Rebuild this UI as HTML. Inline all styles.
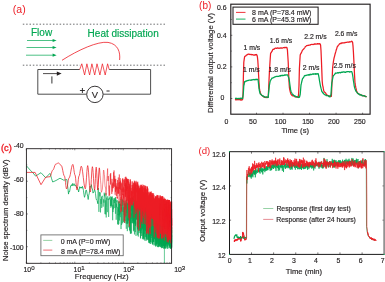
<!DOCTYPE html>
<html><head><meta charset="utf-8"><style>
html,body{margin:0;padding:0;background:#fff;}
svg{display:block;will-change:transform;}
text{font-family:"Liberation Sans",sans-serif;}
</style></head><body>
<svg width="385" height="282" viewBox="0 0 385 282">
<rect width="385" height="282" fill="#fff"/>
<text x="12.8" y="13.2" font-size="10.5" fill="#ed1c24" stroke="#ed1c24" stroke-width="0.16" text-anchor="start" stroke-opacity="0">(a)</text>
<line x1="22.8" y1="24.2" x2="165" y2="24.2" stroke="#6d6e70" stroke-width="1" stroke-dasharray="1.5 1.85"/>
<line x1="22.8" y1="65.2" x2="165" y2="65.2" stroke="#6d6e70" stroke-width="1" stroke-dasharray="1.5 1.85"/>
<text x="31" y="36.3" font-size="10" fill="#00a651" stroke="#00a651" stroke-width="0.16" text-anchor="start" >Flow</text>
<text x="87.6" y="37.3" font-size="10" fill="#00a651" stroke="#00a651" stroke-width="0.16" text-anchor="start" >Heat dissipation</text>
<line x1="27" y1="40.5" x2="53" y2="40.5" stroke="#00a651" stroke-width="0.7"/>
<path d="M52.6,38.9 L56.6,40.5 L52.6,42.1 Z" fill="#00a651"/>
<line x1="26.5" y1="47.5" x2="53" y2="47.5" stroke="#00a651" stroke-width="0.7"/>
<path d="M52.6,45.9 L56.6,47.5 L52.6,49.1 Z" fill="#00a651"/>
<line x1="26" y1="55.2" x2="53" y2="55.2" stroke="#00a651" stroke-width="0.7"/>
<path d="M52.6,53.6 L56.6,55.2 L52.6,56.800000000000004 Z" fill="#00a651"/>
<path d="M62,60.3 C78,50 98,41 108,42.4 C118,44 120.5,52 119.6,60" fill="none" stroke="#ed1c24" stroke-width="0.8"/>
<path d="M79.7,69.5 L37.8,69.5 L37.8,94.2 L86.6,94.2 M103.2,94.2 L150.6,94.2 L150.6,69.5 L109.2,69.5" fill="none" stroke="#3a3a3a" stroke-width="0.9"/>
<rect x="80.2" y="62.5" width="28.6" height="4" fill="#fff"/>
<polyline points="79.70,69.50 81.80,63.80 84.60,75.00 86.90,63.80 89.60,75.00 91.90,63.80 94.70,75.00 97.00,63.80 99.90,75.00 102.40,63.80 105.20,75.00 107.60,63.80 109.20,69.50" fill="none" stroke="#ed1c24" stroke-width="0.75" stroke-linejoin="round" />
<line x1="43" y1="73.6" x2="58" y2="73.6" stroke="#231f20" stroke-width="0.8"/>
<path d="M56.8,71.5 L61.6,73.6 L56.8,75.7 Z" fill="#231f20"/>
<line x1="51.9" y1="76.4" x2="51.9" y2="83.5" stroke="#333" stroke-width="1"/>
<circle cx="94.9" cy="94.4" r="8.2" fill="#fff" stroke="#231f20" stroke-width="0.9"/>
<text x="94.9" y="97.5" font-size="9.4" fill="#231f20" stroke="#231f20" stroke-width="0.16" text-anchor="middle" >V</text>
<path d="M79.9,90.5 H84.9 M82.4,88 V93" stroke="#231f20" stroke-width="0.9"/>
<line x1="106.5" y1="91" x2="109.6" y2="91" stroke="#231f20" stroke-width="0.95"/>
<text x="199.1" y="8.9" font-size="10" fill="#ed1c24" stroke="#ed1c24" stroke-width="0.16" text-anchor="start" stroke-opacity="0">(b)</text>
<line x1="256.50" y1="114.2" x2="256.50" y2="112.7" stroke="#231f20" stroke-width="0.6"/>
<line x1="283.02" y1="114.2" x2="283.02" y2="112.7" stroke="#231f20" stroke-width="0.6"/>
<line x1="309.54" y1="114.2" x2="309.54" y2="112.7" stroke="#231f20" stroke-width="0.6"/>
<line x1="336.07" y1="114.2" x2="336.07" y2="112.7" stroke="#231f20" stroke-width="0.6"/>
<line x1="362.60" y1="114.2" x2="362.60" y2="112.7" stroke="#231f20" stroke-width="0.6"/>
<line x1="230.8" y1="98.50" x2="232.3" y2="98.50" stroke="#231f20" stroke-width="0.6"/>
<line x1="230.8" y1="82.70" x2="231.70000000000002" y2="82.70" stroke="#231f20" stroke-width="0.6"/>
<line x1="230.8" y1="66.90" x2="232.3" y2="66.90" stroke="#231f20" stroke-width="0.6"/>
<line x1="230.8" y1="51.10" x2="231.70000000000002" y2="51.10" stroke="#231f20" stroke-width="0.6"/>
<line x1="230.8" y1="35.30" x2="232.3" y2="35.30" stroke="#231f20" stroke-width="0.6"/>
<line x1="230.8" y1="19.50" x2="231.70000000000002" y2="19.50" stroke="#231f20" stroke-width="0.6"/>
<text x="226.5" y="123.7" font-size="6.9" fill="#231f20" stroke="#231f20" stroke-width="0.16" text-anchor="middle" >0</text>
<text x="252.9" y="123.7" font-size="6.9" fill="#231f20" stroke="#231f20" stroke-width="0.16" text-anchor="middle" >50</text>
<text x="280.6" y="123.7" font-size="6.9" fill="#231f20" stroke="#231f20" stroke-width="0.16" text-anchor="middle" >100</text>
<text x="307.9" y="123.7" font-size="6.9" fill="#231f20" stroke="#231f20" stroke-width="0.16" text-anchor="middle" >150</text>
<text x="333.8" y="123.7" font-size="6.9" fill="#231f20" stroke="#231f20" stroke-width="0.16" text-anchor="middle" >200</text>
<text x="359.8" y="123.7" font-size="6.9" fill="#231f20" stroke="#231f20" stroke-width="0.16" text-anchor="middle" >250</text>
<text x="226.5" y="10.0" font-size="6.9" fill="#231f20" stroke="#231f20" stroke-width="0.16" text-anchor="end" >0.6</text>
<text x="226.5" y="37.6" font-size="6.9" fill="#231f20" stroke="#231f20" stroke-width="0.16" text-anchor="end" >0.4</text>
<text x="226.5" y="68.8" font-size="6.9" fill="#231f20" stroke="#231f20" stroke-width="0.16" text-anchor="end" >0.2</text>
<text x="224.4" y="100.4" font-size="6.9" fill="#231f20" stroke="#231f20" stroke-width="0.16" text-anchor="end" >0</text>
<text x="295.2" y="132.6" font-size="7.6" fill="#231f20" stroke="#231f20" stroke-width="0.16" text-anchor="middle" >Time (s)</text>
<text x="0" y="0" font-size="7.75" fill="#231f20" stroke="#231f20" stroke-width="0.16" text-anchor="middle" transform="translate(213.4,62.95) rotate(-90)">Differential output voltage (V)</text>
<polyline points="235.00,99.69 235.40,99.59 235.80,99.89 236.20,99.54 236.60,99.82 237.00,99.72 237.40,99.53 237.80,99.80 238.20,99.52 238.60,99.76 239.00,99.54 239.40,99.55 239.80,99.75 240.20,100.00 240.60,99.57 241.00,99.63 241.40,99.88 241.80,100.07 242.20,99.85 242.60,99.34 243.00,94.54 243.40,76.13 243.80,62.22 244.20,59.37 244.60,56.79 245.00,56.37 245.40,56.09 245.80,55.99 246.20,55.21 246.60,55.14 247.00,54.95 247.40,54.56 247.80,54.44 248.20,54.05 248.60,54.08 249.00,54.20 249.40,54.51 249.80,54.39 250.20,54.35 250.60,54.55 251.00,54.50 251.40,54.43 251.80,54.76 252.20,54.76 252.60,54.57 253.00,54.84 253.40,54.90 253.80,55.19 254.20,55.11 254.60,54.78 255.00,55.13 255.40,54.55 255.80,54.66 256.20,54.80 256.60,54.52 257.00,55.24 257.40,56.85 257.80,60.48 258.20,66.49 258.60,75.04 259.00,82.65 259.40,88.35 259.80,90.41 260.20,92.18 260.60,93.67 261.00,94.10 261.40,94.83 261.80,95.39 262.20,95.61 262.60,96.15 263.00,96.00 263.40,96.59 263.80,96.76 264.20,97.18 264.60,97.29 265.00,97.17 265.40,97.31 265.80,97.56 266.20,97.24 266.60,97.58 267.00,97.49 267.40,97.53 267.80,97.31 268.20,97.28 268.60,89.58 269.00,80.60 269.40,72.18 269.80,65.30 270.20,58.99 270.60,53.37 271.00,52.75 271.40,52.27 271.80,51.56 272.20,50.91 272.60,49.88 273.00,49.40 273.40,49.18 273.80,49.30 274.20,49.15 274.60,48.48 275.00,48.30 275.40,48.22 275.80,48.19 276.20,48.31 276.60,48.34 277.00,48.11 277.40,47.92 277.80,48.13 278.20,48.07 278.60,48.16 279.00,48.36 279.40,48.16 279.80,48.03 280.20,48.06 280.60,48.07 281.00,47.67 281.40,48.16 281.80,48.06 282.20,48.10 282.60,48.03 283.00,47.76 283.40,47.74 283.80,47.54 284.20,47.84 284.60,47.47 285.00,47.45 285.40,47.51 285.80,47.46 286.20,47.54 286.60,47.35 287.00,47.78 287.40,49.79 287.80,55.76 288.20,61.92 288.60,72.00 289.00,81.72 289.40,87.57 289.80,89.92 290.20,91.50 290.60,93.07 291.00,94.30 291.40,94.48 291.80,95.24 292.20,95.65 292.60,95.66 293.00,95.99 293.40,95.87 293.80,96.01 294.20,96.27 294.60,96.35 295.00,96.81 295.40,96.54 295.80,96.55 296.20,97.18 296.60,97.00 297.00,96.85 297.40,97.16 297.80,96.92 298.20,97.30 298.60,93.94 299.00,85.22 299.40,68.45 299.80,61.52 300.20,54.92 300.60,53.97 301.00,53.49 301.40,52.52 301.80,51.83 302.20,50.72 302.60,49.91 303.00,49.77 303.40,49.39 303.80,48.82 304.20,48.30 304.60,47.82 305.00,47.28 305.40,46.48 305.80,46.33 306.20,46.06 306.60,45.70 307.00,45.53 307.40,45.51 307.80,45.33 308.20,45.43 308.60,45.42 309.00,45.02 309.40,45.24 309.80,45.20 310.20,45.11 310.60,44.69 311.00,44.53 311.40,44.46 311.80,44.38 312.20,44.31 312.60,44.49 313.00,44.59 313.40,44.48 313.80,44.20 314.20,44.23 314.60,44.25 315.00,43.75 315.40,44.07 315.80,44.20 316.20,44.10 316.60,44.06 317.00,43.87 317.40,43.67 317.80,44.01 318.20,43.72 318.60,43.98 319.00,44.06 319.40,43.69 319.80,43.67 320.20,43.97 320.60,45.21 321.00,50.47 321.40,59.78 321.80,70.19 322.20,81.04 322.60,85.05 323.00,86.60 323.40,88.96 323.80,91.00 324.20,91.66 324.60,91.97 325.00,92.58 325.40,92.82 325.80,93.24 326.20,94.30 326.60,94.60 327.00,95.02 327.40,95.47 327.80,95.37 328.20,95.84 328.60,96.02 329.00,95.86 329.40,96.09 329.80,96.32 330.20,96.42 330.60,96.54 331.00,96.25 331.40,96.25 331.80,87.04 332.20,77.96 332.60,67.91 333.00,64.77 333.40,61.65 333.80,59.41 334.20,57.46 334.60,56.10 335.00,54.28 335.40,52.99 335.80,51.69 336.20,50.09 336.60,49.04 337.00,47.58 337.40,46.37 337.80,46.31 338.20,45.39 338.60,45.03 339.00,44.64 339.40,44.00 339.80,43.54 340.20,43.56 340.60,43.48 341.00,43.51 341.40,43.00 341.80,43.17 342.20,42.88 342.60,42.79 343.00,43.02 343.40,42.79 343.80,42.76 344.20,42.82 344.60,42.84 345.00,42.50 345.40,42.54 345.80,42.41 346.20,42.35 346.60,42.39 347.00,42.19 347.40,42.17 347.80,42.07 348.20,42.29 348.60,42.08 349.00,42.12 349.40,42.10 349.80,41.62 350.20,41.74 350.60,41.91 351.00,41.78 351.40,41.29 351.80,41.22 352.20,41.59 352.60,42.29 353.00,45.84 353.40,51.74 353.80,59.39 354.20,68.03 354.60,75.98 355.00,83.19 355.40,85.48 355.80,87.40 356.20,89.04 356.60,91.43 357.00,92.06 357.40,92.18 357.80,93.20 358.20,93.44 358.60,93.74 359.00,94.28 359.40,94.43 359.80,94.27 360.20,94.67 360.60,94.97 361.00,95.10 361.40,95.12 361.80,95.30 362.20,95.65 362.60,95.34 363.00,95.77 363.40,95.80 363.80,95.66 364.20,95.94 364.60,96.21 365.00,96.23 365.40,96.05 365.80,96.69 366.20,96.66 366.60,96.86" fill="none" stroke="#ed1c24" stroke-width="1.25" stroke-linejoin="round" />
<polyline points="235.00,98.32 235.40,98.43 235.80,98.26 236.20,98.76 236.60,98.40 237.00,98.29 237.40,98.48 237.80,98.81 238.20,98.74 238.60,98.34 239.00,98.25 239.40,98.78 239.80,98.52 240.20,98.60 240.60,98.17 241.00,98.13 241.40,98.56 241.80,98.37 242.20,98.11 242.60,98.71 243.00,96.23 243.40,92.21 243.80,85.71 244.20,84.25 244.60,81.70 245.00,81.97 245.40,81.40 245.80,81.03 246.20,81.00 246.60,81.19 247.00,80.66 247.40,80.50 247.80,80.70 248.20,80.43 248.60,80.27 249.00,80.24 249.40,80.09 249.80,80.13 250.20,80.14 250.60,80.09 251.00,80.36 251.40,79.98 251.80,80.08 252.20,79.80 252.60,79.87 253.00,79.59 253.40,79.70 253.80,79.49 254.20,79.93 254.60,79.74 255.00,79.42 255.40,79.56 255.80,79.82 256.20,79.18 256.60,79.61 257.00,79.28 257.40,79.26 257.80,79.43 258.20,80.89 258.60,84.60 259.00,88.46 259.40,90.79 259.80,92.46 260.20,93.70 260.60,94.11 261.00,94.56 261.40,94.89 261.80,95.35 262.20,95.49 262.60,95.74 263.00,95.90 263.40,96.57 263.80,96.43 264.20,96.56 264.60,96.57 265.00,97.16 265.40,97.25 265.80,97.17 266.20,96.96 266.60,96.99 267.00,97.09 267.40,97.27 267.80,97.10 268.20,97.35 268.60,93.18 269.00,89.32 269.40,85.33 269.80,83.23 270.20,81.22 270.60,80.55 271.00,79.54 271.40,79.02 271.80,78.23 272.20,78.14 272.60,78.04 273.00,77.90 273.40,77.52 273.80,77.57 274.20,77.06 274.60,77.08 275.00,76.79 275.40,76.88 275.80,76.53 276.20,76.42 276.60,76.51 277.00,76.36 277.40,76.51 277.80,76.37 278.20,76.43 278.60,76.26 279.00,76.20 279.40,76.22 279.80,75.77 280.20,75.65 280.60,76.04 281.00,75.40 281.40,75.74 281.80,75.62 282.20,75.13 282.60,75.62 283.00,75.60 283.40,75.35 283.80,75.36 284.20,75.36 284.60,74.82 285.00,75.03 285.40,74.95 285.80,75.12 286.20,75.03 286.60,74.99 287.00,74.75 287.40,74.91 287.80,75.33 288.20,76.54 288.60,77.52 289.00,78.81 289.40,80.73 289.80,84.04 290.20,86.81 290.60,89.67 291.00,91.43 291.40,92.26 291.80,93.03 292.20,93.85 292.60,94.37 293.00,94.32 293.40,95.18 293.80,95.44 294.20,95.56 294.60,95.88 295.00,96.27 295.40,96.15 295.80,96.81 296.20,96.55 296.60,96.51 297.00,96.72 297.40,97.13 297.80,96.84 298.20,97.30 298.60,97.55 299.00,97.29 299.40,97.30 299.80,96.06 300.20,94.43 300.60,89.79 301.00,84.98 301.40,83.45 301.80,81.50 302.20,80.00 302.60,78.53 303.00,78.33 303.40,77.48 303.80,77.13 304.20,76.20 304.60,75.70 305.00,75.42 305.40,75.62 305.80,75.55 306.20,75.45 306.60,75.10 307.00,75.18 307.40,75.06 307.80,74.98 308.20,74.65 308.60,75.11 309.00,74.54 309.40,75.01 309.80,74.89 310.20,74.17 310.60,74.40 311.00,74.57 311.40,74.61 311.80,74.21 312.20,74.05 312.60,73.98 313.00,74.46 313.40,73.91 313.80,74.13 314.20,73.79 314.60,74.03 315.00,74.29 315.40,73.68 315.80,74.13 316.20,73.88 316.60,74.11 317.00,73.95 317.40,73.58 317.80,74.01 318.20,73.69 318.60,75.31 319.00,77.34 319.40,80.03 319.80,82.35 320.20,84.60 320.60,86.61 321.00,88.19 321.40,89.61 321.80,91.42 322.20,91.74 322.60,92.66 323.00,93.11 323.40,92.99 323.80,93.94 324.20,94.18 324.60,94.70 325.00,94.66 325.40,94.98 325.80,95.13 326.20,95.70 326.60,95.55 327.00,95.53 327.40,95.71 327.80,95.75 328.20,95.73 328.60,95.90 329.00,96.56 329.40,96.31 329.80,96.90 330.20,96.13 330.60,95.85 331.00,94.26 331.40,87.83 331.80,82.79 332.20,81.12 332.60,78.99 333.00,76.86 333.40,75.49 333.80,75.29 334.20,74.91 334.60,74.23 335.00,73.95 335.40,73.08 335.80,73.33 336.20,73.08 336.60,73.24 337.00,73.10 337.40,72.80 337.80,72.57 338.20,73.13 338.60,72.52 339.00,72.70 339.40,72.55 339.80,72.47 340.20,72.72 340.60,72.83 341.00,72.27 341.40,72.49 341.80,72.19 342.20,72.31 342.60,72.14 343.00,71.92 343.40,71.86 343.80,71.88 344.20,72.35 344.60,72.04 345.00,71.83 345.40,72.29 345.80,72.33 346.20,71.93 346.60,71.70 347.00,71.72 347.40,71.63 347.80,71.78 348.20,71.59 348.60,71.67 349.00,71.67 349.40,71.87 349.80,72.07 350.20,71.95 350.60,71.70 351.00,71.68 351.40,71.74 351.80,71.62 352.20,73.05 352.60,74.81 353.00,77.49 353.40,80.70 353.80,82.83 354.20,85.82 354.60,87.53 355.00,88.95 355.40,89.75 355.80,91.04 356.20,91.42 356.60,91.93 357.00,92.36 357.40,93.12 357.80,93.44 358.20,93.86 358.60,93.67 359.00,94.00 359.40,94.61 359.80,94.86 360.20,94.70 360.60,94.90 361.00,94.62 361.40,95.02 361.80,95.52 362.20,95.58 362.60,95.73 363.00,95.94 363.40,95.56 363.80,95.58 364.20,95.71 364.60,96.07 365.00,96.29 365.40,96.57 365.80,96.52 366.20,96.57 366.60,96.76" fill="none" stroke="#00a651" stroke-width="1.25" stroke-linejoin="round" />
<rect x="233" y="7.1" width="85.1" height="17.2" fill="#fff" stroke="#231f20" stroke-width="1.05"/>
<line x1="236" y1="12.4" x2="245.5" y2="12.4" stroke="#ed1c24" stroke-width="0.9"/>
<line x1="236" y1="19.1" x2="245.5" y2="19.1" stroke="#00a651" stroke-width="0.9"/>
<text x="252.1" y="15.1" font-size="7.0" fill="#231f20" stroke="#231f20" stroke-width="0.16" text-anchor="start" >8 mA (P=78.4 mW)</text>
<text x="252.1" y="21.9" font-size="7.0" fill="#231f20" stroke="#231f20" stroke-width="0.16" text-anchor="start" >6 mA (P=45.3 mW)</text>
<text x="243.5" y="49.9" font-size="6.85" fill="#231f20" stroke="#231f20" stroke-width="0.16" text-anchor="start" >1 m/s</text>
<text x="269.8" y="42.8" font-size="6.85" fill="#231f20" stroke="#231f20" stroke-width="0.16" text-anchor="start" >1.6 m/s</text>
<text x="304.2" y="38.6" font-size="6.85" fill="#231f20" stroke="#231f20" stroke-width="0.16" text-anchor="start" >2.2 m/s</text>
<text x="334.9" y="35.6" font-size="6.85" fill="#231f20" stroke="#231f20" stroke-width="0.16" text-anchor="start" >2.6 m/s</text>
<text x="243.0" y="72.3" font-size="6.85" fill="#231f20" stroke="#231f20" stroke-width="0.16" text-anchor="start" >1 m/s</text>
<text x="268.5" y="72.0" font-size="6.85" fill="#231f20" stroke="#231f20" stroke-width="0.16" text-anchor="start" >1.8 m/s</text>
<text x="302.8" y="69.7" font-size="6.85" fill="#231f20" stroke="#231f20" stroke-width="0.16" text-anchor="start" >2 m/s</text>
<text x="333.4" y="67.8" font-size="6.85" fill="#231f20" stroke="#231f20" stroke-width="0.16" text-anchor="start" >2.5 m/s</text>
<rect x="230.8" y="4.2" width="139.3" height="110.0" fill="none" stroke="#231f20" stroke-width="1.15"/>
<text x="0.9" y="151.4" font-size="9.3" fill="#ed1c24" stroke="#ed1c24" stroke-width="0.35" text-anchor="start" >(c)</text>
<line x1="26.30" y1="263.3" x2="26.30" y2="261.7" stroke="#231f20" stroke-width="0.5"/>
<line x1="26.30" y1="148.7" x2="26.30" y2="150.29999999999998" stroke="#231f20" stroke-width="0.5"/>
<line x1="40.89" y1="263.3" x2="40.89" y2="262.40000000000003" stroke="#231f20" stroke-width="0.5"/>
<line x1="40.89" y1="148.7" x2="40.89" y2="149.6" stroke="#231f20" stroke-width="0.5"/>
<line x1="49.43" y1="263.3" x2="49.43" y2="262.40000000000003" stroke="#231f20" stroke-width="0.5"/>
<line x1="49.43" y1="148.7" x2="49.43" y2="149.6" stroke="#231f20" stroke-width="0.5"/>
<line x1="55.48" y1="263.3" x2="55.48" y2="262.40000000000003" stroke="#231f20" stroke-width="0.5"/>
<line x1="55.48" y1="148.7" x2="55.48" y2="149.6" stroke="#231f20" stroke-width="0.5"/>
<line x1="60.18" y1="263.3" x2="60.18" y2="262.40000000000003" stroke="#231f20" stroke-width="0.5"/>
<line x1="60.18" y1="148.7" x2="60.18" y2="149.6" stroke="#231f20" stroke-width="0.5"/>
<line x1="64.02" y1="263.3" x2="64.02" y2="262.40000000000003" stroke="#231f20" stroke-width="0.5"/>
<line x1="64.02" y1="148.7" x2="64.02" y2="149.6" stroke="#231f20" stroke-width="0.5"/>
<line x1="67.26" y1="263.3" x2="67.26" y2="262.40000000000003" stroke="#231f20" stroke-width="0.5"/>
<line x1="67.26" y1="148.7" x2="67.26" y2="149.6" stroke="#231f20" stroke-width="0.5"/>
<line x1="70.07" y1="263.3" x2="70.07" y2="262.40000000000003" stroke="#231f20" stroke-width="0.5"/>
<line x1="70.07" y1="148.7" x2="70.07" y2="149.6" stroke="#231f20" stroke-width="0.5"/>
<line x1="72.55" y1="263.3" x2="72.55" y2="262.40000000000003" stroke="#231f20" stroke-width="0.5"/>
<line x1="72.55" y1="148.7" x2="72.55" y2="149.6" stroke="#231f20" stroke-width="0.5"/>
<line x1="74.77" y1="263.3" x2="74.77" y2="261.7" stroke="#231f20" stroke-width="0.5"/>
<line x1="74.77" y1="148.7" x2="74.77" y2="150.29999999999998" stroke="#231f20" stroke-width="0.5"/>
<line x1="89.36" y1="263.3" x2="89.36" y2="262.40000000000003" stroke="#231f20" stroke-width="0.5"/>
<line x1="89.36" y1="148.7" x2="89.36" y2="149.6" stroke="#231f20" stroke-width="0.5"/>
<line x1="97.90" y1="263.3" x2="97.90" y2="262.40000000000003" stroke="#231f20" stroke-width="0.5"/>
<line x1="97.90" y1="148.7" x2="97.90" y2="149.6" stroke="#231f20" stroke-width="0.5"/>
<line x1="103.95" y1="263.3" x2="103.95" y2="262.40000000000003" stroke="#231f20" stroke-width="0.5"/>
<line x1="103.95" y1="148.7" x2="103.95" y2="149.6" stroke="#231f20" stroke-width="0.5"/>
<line x1="108.65" y1="263.3" x2="108.65" y2="262.40000000000003" stroke="#231f20" stroke-width="0.5"/>
<line x1="108.65" y1="148.7" x2="108.65" y2="149.6" stroke="#231f20" stroke-width="0.5"/>
<line x1="112.49" y1="263.3" x2="112.49" y2="262.40000000000003" stroke="#231f20" stroke-width="0.5"/>
<line x1="112.49" y1="148.7" x2="112.49" y2="149.6" stroke="#231f20" stroke-width="0.5"/>
<line x1="115.73" y1="263.3" x2="115.73" y2="262.40000000000003" stroke="#231f20" stroke-width="0.5"/>
<line x1="115.73" y1="148.7" x2="115.73" y2="149.6" stroke="#231f20" stroke-width="0.5"/>
<line x1="118.54" y1="263.3" x2="118.54" y2="262.40000000000003" stroke="#231f20" stroke-width="0.5"/>
<line x1="118.54" y1="148.7" x2="118.54" y2="149.6" stroke="#231f20" stroke-width="0.5"/>
<line x1="121.02" y1="263.3" x2="121.02" y2="262.40000000000003" stroke="#231f20" stroke-width="0.5"/>
<line x1="121.02" y1="148.7" x2="121.02" y2="149.6" stroke="#231f20" stroke-width="0.5"/>
<line x1="123.24" y1="263.3" x2="123.24" y2="261.7" stroke="#231f20" stroke-width="0.5"/>
<line x1="123.24" y1="148.7" x2="123.24" y2="150.29999999999998" stroke="#231f20" stroke-width="0.5"/>
<line x1="137.83" y1="263.3" x2="137.83" y2="262.40000000000003" stroke="#231f20" stroke-width="0.5"/>
<line x1="137.83" y1="148.7" x2="137.83" y2="149.6" stroke="#231f20" stroke-width="0.5"/>
<line x1="146.37" y1="263.3" x2="146.37" y2="262.40000000000003" stroke="#231f20" stroke-width="0.5"/>
<line x1="146.37" y1="148.7" x2="146.37" y2="149.6" stroke="#231f20" stroke-width="0.5"/>
<line x1="152.42" y1="263.3" x2="152.42" y2="262.40000000000003" stroke="#231f20" stroke-width="0.5"/>
<line x1="152.42" y1="148.7" x2="152.42" y2="149.6" stroke="#231f20" stroke-width="0.5"/>
<line x1="157.12" y1="263.3" x2="157.12" y2="262.40000000000003" stroke="#231f20" stroke-width="0.5"/>
<line x1="157.12" y1="148.7" x2="157.12" y2="149.6" stroke="#231f20" stroke-width="0.5"/>
<line x1="160.96" y1="263.3" x2="160.96" y2="262.40000000000003" stroke="#231f20" stroke-width="0.5"/>
<line x1="160.96" y1="148.7" x2="160.96" y2="149.6" stroke="#231f20" stroke-width="0.5"/>
<line x1="164.20" y1="263.3" x2="164.20" y2="262.40000000000003" stroke="#231f20" stroke-width="0.5"/>
<line x1="164.20" y1="148.7" x2="164.20" y2="149.6" stroke="#231f20" stroke-width="0.5"/>
<line x1="167.01" y1="263.3" x2="167.01" y2="262.40000000000003" stroke="#231f20" stroke-width="0.5"/>
<line x1="167.01" y1="148.7" x2="167.01" y2="149.6" stroke="#231f20" stroke-width="0.5"/>
<line x1="169.49" y1="263.3" x2="169.49" y2="262.40000000000003" stroke="#231f20" stroke-width="0.5"/>
<line x1="169.49" y1="148.7" x2="169.49" y2="149.6" stroke="#231f20" stroke-width="0.5"/>
<line x1="26.4" y1="164.87" x2="27.299999999999997" y2="164.87" stroke="#231f20" stroke-width="0.5"/>
<line x1="171.6" y1="164.87" x2="170.7" y2="164.87" stroke="#231f20" stroke-width="0.5"/>
<line x1="26.4" y1="181.24" x2="27.9" y2="181.24" stroke="#231f20" stroke-width="0.5"/>
<line x1="171.6" y1="181.24" x2="170.1" y2="181.24" stroke="#231f20" stroke-width="0.5"/>
<line x1="26.4" y1="197.61" x2="27.299999999999997" y2="197.61" stroke="#231f20" stroke-width="0.5"/>
<line x1="171.6" y1="197.61" x2="170.7" y2="197.61" stroke="#231f20" stroke-width="0.5"/>
<line x1="26.4" y1="213.98" x2="27.9" y2="213.98" stroke="#231f20" stroke-width="0.5"/>
<line x1="171.6" y1="213.98" x2="170.1" y2="213.98" stroke="#231f20" stroke-width="0.5"/>
<line x1="26.4" y1="230.35" x2="27.299999999999997" y2="230.35" stroke="#231f20" stroke-width="0.5"/>
<line x1="171.6" y1="230.35" x2="170.7" y2="230.35" stroke="#231f20" stroke-width="0.5"/>
<line x1="26.4" y1="246.72" x2="27.9" y2="246.72" stroke="#231f20" stroke-width="0.5"/>
<line x1="171.6" y1="246.72" x2="170.1" y2="246.72" stroke="#231f20" stroke-width="0.5"/>
<line x1="26.4" y1="263.09" x2="27.299999999999997" y2="263.09" stroke="#231f20" stroke-width="0.5"/>
<line x1="171.6" y1="263.09" x2="170.7" y2="263.09" stroke="#231f20" stroke-width="0.5"/>
<text x="23.7" y="148.2" font-size="6.9" fill="#231f20" stroke="#231f20" stroke-width="0.16" text-anchor="end" >-40</text>
<text x="23.7" y="182.3" font-size="6.9" fill="#231f20" stroke="#231f20" stroke-width="0.16" text-anchor="end" >-60</text>
<text x="23.7" y="216.2" font-size="6.9" fill="#231f20" stroke="#231f20" stroke-width="0.16" text-anchor="end" >-80</text>
<text x="23.7" y="250.0" font-size="6.9" fill="#231f20" stroke="#231f20" stroke-width="0.16" text-anchor="end" >-100</text>
<text x="23.5" y="272" font-size="6.9" fill="#231f20" stroke="#231f20" stroke-width="0.16">10<tspan font-size="6.1" dy="-1.9">0</tspan></text>
<text x="73.6" y="272" font-size="6.9" fill="#231f20" stroke="#231f20" stroke-width="0.16">10<tspan font-size="6.1" dy="-1.9">1</tspan></text>
<text x="123.3" y="272" font-size="6.9" fill="#231f20" stroke="#231f20" stroke-width="0.16">10<tspan font-size="6.1" dy="-1.9">2</tspan></text>
<text x="174.2" y="272" font-size="6.9" fill="#231f20" stroke="#231f20" stroke-width="0.16">10<tspan font-size="6.1" dy="-1.9">3</tspan></text>
<text x="101.7" y="278.7" font-size="7.8" fill="#231f20" stroke="#231f20" stroke-width="0.16" text-anchor="middle" >Frequency (Hz)</text>
<text x="0" y="0" font-size="7.7" fill="#231f20" stroke="#231f20" stroke-width="0.16" text-anchor="middle" transform="translate(8.4,210.25) rotate(-90)">Noise spectrum density (dBV)</text>
<polyline points="26.60,166.00 30.30,170.20 33.00,172.90 35.60,176.10 41.00,172.70 45.70,177.80 50.00,173.30 51.60,178.70 52.70,182.00 56.00,180.50 60.00,178.20 63.80,180.20 66.90,179.50 67.43,184.25 67.97,188.83 68.50,194.10 69.03,191.18 69.57,191.74 70.10,188.80 70.63,185.82 71.17,186.01 71.70,184.60 72.18,185.99 72.66,183.48 73.13,185.11 73.61,185.42 74.09,183.69 74.57,184.88 75.04,186.03 75.52,185.34 76.00,185.60 76.52,187.60 77.04,187.06 77.56,188.60 78.08,189.48 78.60,192.00 79.15,189.37 79.70,186.70 80.16,188.21 80.61,187.30 81.07,188.05 81.53,186.96 81.99,188.27 82.44,186.37 82.90,187.80 83.43,190.30 83.97,194.69 84.50,197.30 85.03,195.56 85.57,192.12 86.10,189.90 86.62,190.98 87.15,193.95 87.67,196.17 88.20,199.50 88.73,195.23 89.27,193.36 89.80,188.80 90.33,186.44 90.87,187.24 91.40,184.60 91.93,188.65 92.47,188.84 93.00,193.10 93.50,192.09 94.00,191.82 94.50,189.70 95.00,190.60 95.50,193.49 96.00,198.17 96.50,200.00 97.15,200.61 97.80,203.70 98.20,189.60 98.24,188.13" fill="none" stroke="#00a651" stroke-width="0.75" stroke-linejoin="round" />
<polyline points="98.20,189.60 98.24,188.13 98.59,204.25 98.92,211.89 99.25,200.33 99.58,191.97 99.90,196.37 100.22,192.53 100.53,212.43 100.84,199.03 101.14,203.85 101.44,196.60 101.73,207.93 102.02,197.39 102.31,195.77 102.59,197.26 102.87,200.60 103.15,206.68 103.42,203.08 103.69,199.32 103.95,202.68 104.21,192.66 104.47,196.30 104.73,193.77 104.98,214.13 105.23,200.28 105.47,207.73 105.72,214.41 105.96,193.01 106.20,217.47 106.43,207.40 106.66,197.59 106.89,200.59 107.12,207.38 107.35,212.16 107.57,201.16 107.79,196.23 108.01,199.58 108.22,200.02 108.44,198.73 108.65,216.96 108.86,199.52 109.07,198.38 109.27,197.69 109.47,197.82 109.68,199.53 109.88,196.77 110.07,196.33 110.27,198.35 110.46,206.01 110.66,199.52 110.85,207.72 111.03,196.45 111.22,205.49 111.41,197.33 111.59,206.43 111.77,197.38 111.95,198.59 112.13,199.93 112.31,196.45 112.49,210.71 112.66,220.23 112.83,204.88 113.01,212.05 113.18,199.84 113.35,208.55 113.51,209.28 113.68,198.88 113.85,198.21 114.01,200.90 114.17,200.62 114.33,203.02 114.49,198.48 114.65,200.64 114.81,208.05 114.97,202.52 115.12,197.71 115.28,201.33 115.43,213.76 115.58,197.13 115.73,200.82 115.88,199.48 116.03,204.05 116.18,219.78 116.32,214.70 116.47,203.55 116.62,207.40 116.76,200.75 116.90,202.41 117.04,199.90 117.18,200.37 117.32,209.42 117.46,209.83 117.60,224.15 117.74,209.94 117.87,206.93 118.01,214.68 118.14,214.08 118.28,224.97 118.41,208.39 118.54,211.65 118.67,201.23 118.80,223.92 118.93,202.00 119.06,215.51 119.19,204.01 119.32,201.18 119.44,220.50 119.57,204.13 119.69,205.28 119.82,204.12 119.94,214.47 120.07,211.15 120.19,217.21 120.31,203.59 120.43,205.65 120.55,206.12 120.67,205.81 120.79,198.87 120.90,200.12 121.02,229.07 121.14,204.91 121.25,209.62 121.37,207.05 121.48,207.13 121.60,225.02 121.71,212.38 121.83,199.76 121.94,206.15 122.05,203.30 122.16,202.15 122.27,198.71 122.38,201.40 122.49,201.59 122.60,223.35 122.71,204.65 122.81,200.00 122.92,210.45 123.03,211.92 123.13,208.77 123.24,206.86 123.34,207.67 123.45,222.20 123.55,207.19 123.66,201.75 123.76,202.08 123.86,202.02 123.96,200.89 124.07,205.36 124.17,215.04 124.27,208.85 124.37,203.87 124.47,222.84 124.57,208.22 124.66,202.63 124.76,204.06 124.86,215.99 124.96,217.39 125.05,208.12 125.15,221.24 125.25,203.68 125.34,200.58 125.44,208.74 125.53,204.96 125.63,206.64 125.72,203.10 125.81,205.82 125.91,207.98 126.00,204.66 126.09,223.50 126.18,204.22 126.27,228.80 126.36,201.54 126.45,199.63 126.54,204.22 126.63,202.03 126.72,212.95 126.81,203.50 126.90,211.85 126.99,215.76 127.08,223.88 127.17,205.55 127.25,202.68 127.34,231.15 127.43,203.53 127.51,215.30 127.60,223.46 127.68,222.50 127.77,218.37 127.85,223.36 127.94,222.61 128.02,199.95 128.10,199.18 128.19,205.27 128.27,198.56 128.35,209.44 128.44,220.41 128.52,207.38 128.60,206.43 128.68,217.44 128.76,227.41 128.84,202.79 128.92,210.34 129.00,202.42 129.08,221.20 129.16,202.09 129.24,207.08 129.32,208.16 129.40,206.19 129.48,229.92 129.56,228.92 129.64,208.52 129.71,200.34 129.79,201.71 129.87,231.21 129.94,212.87 130.02,213.22 130.10,223.53 130.17,202.34 130.25,198.05 130.32,227.92 130.40,233.59 130.47,204.22 130.55,206.89 130.62,218.19 130.70,233.69 130.77,224.99 130.84,211.13 130.92,210.01 130.99,205.50 131.06,211.20 131.13,201.90 131.21,223.12 131.28,199.63 131.35,203.71 131.42,200.89 131.49,203.75 131.56,233.43 131.63,213.40 131.70,215.06 131.78,215.54 131.85,205.40 131.92,217.36 131.98,219.15 132.05,202.00 132.12,200.13 132.19,201.88 132.26,210.09 132.33,199.18 132.40,197.70 132.47,216.92 132.53,223.15 132.60,204.27 132.67,212.57 132.74,213.85 132.80,199.37 132.87,197.13 132.94,221.48 133.00,204.32 133.07,221.22 133.13,200.70 133.20,223.45 133.26,210.90 133.33,197.97 133.40,208.21 133.46,231.24 133.52,205.32 133.59,218.59 133.65,214.78 133.72,207.79 133.78,207.44 133.85,230.13 133.91,207.09 133.97,203.11 134.04,223.90 134.10,203.22 134.16,216.34 134.22,204.65 134.29,201.57 134.35,202.48 134.41,204.72 134.47,234.44 134.53,201.79 134.59,201.01 134.66,204.42 134.72,199.90 134.78,222.29 134.84,204.29 134.90,209.08 134.96,200.09 135.02,200.28 135.08,223.06 135.14,203.74 135.20,218.84 135.26,232.05 135.32,200.40 135.38,203.30 135.44,225.87 135.50,221.76 135.55,202.15 135.61,200.26 135.67,225.40 135.73,207.65 135.79,200.91 135.85,213.15 135.90,206.93 135.96,229.62 136.02,235.89 136.08,204.30 136.13,200.78 136.19,219.95 136.25,214.00 136.30,207.87 136.36,206.16 136.42,207.76 136.47,205.26 136.53,208.66 136.58,216.20 136.64,219.17 136.70,206.20 136.75,209.99 136.81,208.96 136.86,216.35 136.92,207.30 136.97,205.32 137.03,205.78 137.08,219.64 137.14,208.34 137.19,216.38 137.24,205.68 137.30,206.75 137.35,224.10 137.41,221.81 137.46,229.50 137.51,211.39 137.57,216.63 137.62,235.30 137.67,208.87 137.73,205.69 137.78,226.54 137.83,225.28 137.88,209.91 137.94,213.22 137.99,220.14 138.04,208.05 138.09,228.87 138.14,218.09 138.20,209.12 138.25,209.98 138.30,236.57 138.35,224.88 138.40,217.54 138.45,220.57 138.50,208.61 138.56,210.10 138.61,210.07 138.66,218.20 138.71,206.38 138.76,207.38 138.81,216.45 138.86,218.75 138.91,229.63 138.96,217.44 139.01,207.98 139.06,206.95 139.11,225.12 139.16,233.10 139.21,213.03 139.26,214.71 139.30,212.62 139.35,207.17 139.40,212.17 139.45,218.69 139.50,216.47 139.55,221.59 139.60,213.93 139.64,230.52 139.69,211.89 139.74,211.55 139.79,223.42 139.84,212.53 139.89,219.13 139.93,218.21 139.98,205.98 140.03,209.87 140.08,208.22 140.12,231.21 140.17,228.60 140.22,208.15 140.26,204.93 140.31,223.85 140.36,219.96 140.40,226.79 140.45,237.87 140.50,209.55 140.54,209.49 140.59,238.55 140.64,215.84 140.68,213.51 140.73,208.99 140.77,233.42 140.82,210.05 140.86,216.38 140.91,210.53 140.96,210.70 141.00,233.10 141.05,215.35 141.09,218.89 141.14,206.40 141.18,225.30 141.23,216.72 141.27,208.59 141.32,225.03 141.36,222.93 141.40,216.02 141.45,222.68 141.49,227.50 141.54,231.39 141.58,236.06 141.62,217.25 141.67,230.39 141.71,229.82 141.76,207.06 141.80,213.10 141.84,204.99 141.89,211.45 141.93,213.93 141.97,212.57 142.02,206.55 142.06,207.62 142.10,213.87 142.15,229.25 142.19,210.22 142.23,208.42 142.27,207.14 142.32,214.29 142.36,209.67 142.40,210.40 142.44,206.97 142.49,239.16 142.53,206.27 142.57,217.13 142.61,208.49 142.65,224.70 142.70,221.49 142.74,213.50 142.78,228.63 142.82,210.00 142.86,208.82 142.90,222.50 142.95,227.65 142.99,226.73 143.03,206.50 143.07,220.09 143.11,235.73 143.15,211.19 143.19,227.10 143.23,214.90 143.27,216.58 143.31,211.65 143.35,209.31 143.39,238.44 143.43,216.97 143.47,217.04 143.52,212.59 143.56,219.57 143.60,237.55 143.64,209.47 143.68,239.52 143.71,209.86 143.75,207.32 143.79,207.88 143.83,221.04 143.87,208.15 143.91,211.16 143.95,219.30 143.99,228.43 144.03,207.36 144.07,222.15 144.11,239.02 144.15,208.74 144.19,221.91 144.23,209.52 144.26,210.00 144.30,233.83 144.34,220.18 144.38,229.71 144.42,211.45 144.46,211.63 144.50,217.99 144.53,207.29 144.57,210.95 144.61,212.46 144.65,208.06 144.69,212.62 144.72,240.56 144.76,237.60 144.80,207.71 144.84,220.80 144.88,211.28 144.91,217.19 144.95,219.52 144.99,221.43 145.03,226.39 145.06,211.73 145.10,207.42 145.14,211.47 145.18,216.28 145.21,218.73 145.25,207.29 145.29,212.05 145.32,220.11 145.36,236.88 145.40,221.42 145.43,208.28 145.47,211.34 145.51,211.69 145.54,219.45 145.58,222.81 145.62,212.26 145.65,231.01 145.69,211.85 145.72,213.27 145.76,215.78 145.80,213.31 145.83,218.72 145.87,211.18 145.90,229.74 145.94,213.24 145.98,240.90 146.01,214.45 146.05,220.42 146.08,210.59 146.12,218.73 146.15,215.21 146.19,221.47 146.23,208.83 146.26,213.74 146.30,227.28 146.33,237.17 146.37,210.35 146.40,230.41 146.44,221.38 146.47,210.42 146.51,210.75 146.54,224.01 146.58,225.18 146.61,238.74 146.64,217.84 146.68,219.94 146.71,211.55 146.75,212.28 146.78,219.59 146.82,212.77 146.85,221.07 146.89,240.26 146.92,215.30 146.95,214.18 146.99,223.16 147.02,239.45 147.06,225.97 147.09,210.18 147.12,218.72 147.16,213.52 147.19,218.33 147.23,213.40 147.26,211.49 147.29,220.29 147.33,218.11 147.36,211.61 147.39,212.53 147.43,216.88 147.46,212.78 147.49,218.51 147.53,212.01 147.56,216.21 147.59,211.11 147.63,224.26 147.66,219.53 147.69,210.85 147.72,239.75 147.76,213.90 147.79,211.46 147.82,212.56 147.86,223.39 147.89,230.78 147.92,211.99 147.95,217.30 147.99,222.01 148.02,212.75 148.05,229.97 148.08,229.56 148.12,212.29 148.15,223.70 148.18,220.09 148.21,209.24 148.24,212.38 148.28,232.57 148.31,230.77 148.34,212.58 148.37,222.48 148.40,229.80 148.44,239.58 148.47,223.22 148.50,223.34 148.53,228.55 148.56,242.67 148.59,219.93 148.63,223.37 148.66,209.93 148.69,221.98 148.72,233.93 148.75,212.21 148.78,240.37 148.81,225.97 148.85,213.23 148.88,223.31 148.91,225.23 148.94,231.86 148.97,227.03 149.00,222.66 149.03,236.17 149.06,219.34 149.09,216.22 149.12,210.53 149.15,217.69 149.19,226.23 149.22,217.26 149.25,212.62 149.28,214.99 149.31,222.29 149.34,218.39 149.37,243.23 149.40,219.06 149.43,213.96 149.46,217.64 149.49,219.09 149.52,243.19 149.55,212.89 149.58,210.26 149.61,229.50 149.64,214.91 149.67,219.82 149.70,237.30 149.73,209.83 149.76,217.62 149.79,227.95 149.82,230.74 149.85,212.90 149.88,214.25 149.91,222.65 149.94,213.61 149.97,217.65 150.00,213.38 150.03,213.91 150.06,214.04 150.09,212.01 150.12,222.78 150.15,234.53 150.17,229.28 150.20,233.29 150.23,216.45 150.26,215.51 150.29,241.56 150.32,224.62 150.35,242.19 150.38,231.84 150.41,213.81 150.44,216.64 150.47,211.83 150.49,218.35 150.52,238.33 150.55,243.99 150.58,212.21 150.61,241.99 150.64,211.30 150.67,214.00 150.70,215.45 150.72,216.20 150.75,224.56 150.78,218.90 150.81,217.15 150.84,225.46 150.87,227.65 150.89,233.86 150.92,214.73 150.95,235.67 150.98,210.52 151.01,233.57 151.04,235.28 151.06,218.64 151.09,228.93 151.12,224.22 151.15,228.97 151.18,213.00 151.20,216.97 151.23,213.12 151.26,234.78 151.29,213.39 151.31,225.55 151.34,232.25 151.37,216.63 151.40,227.89 151.43,212.81 151.45,232.73 151.48,219.08 151.51,218.41 151.54,223.42 151.56,227.52 151.59,211.53 151.62,238.20 151.64,221.47 151.67,223.37 151.70,235.89 151.73,227.34 151.75,235.02 151.78,213.06 151.81,219.47 151.83,218.13 151.86,237.34 151.89,242.32 151.92,212.32 151.94,215.19 151.97,212.39 152.00,213.09 152.02,228.46 152.05,219.65 152.08,224.89 152.10,220.16 152.13,220.33 152.16,225.30 152.18,216.52 152.21,224.79 152.24,218.05 152.26,243.81 152.29,238.97 152.32,243.39 152.34,215.59 152.37,216.39 152.40,212.50 152.42,243.02 152.45,216.94 152.47,215.38 152.50,224.06 152.53,214.84 152.55,218.44 152.58,241.65 152.61,244.46 152.63,215.33 152.66,215.95 152.68,222.83 152.71,212.94 152.74,231.09 152.76,229.54 152.79,235.85 152.81,225.68 152.84,222.17 152.86,234.72 152.89,211.90 152.92,235.48 152.94,218.86 152.97,244.66 152.99,220.59 153.02,226.25 153.04,216.26 153.07,241.44 153.10,213.19 153.12,215.64 153.15,220.95 153.17,225.55 153.20,242.04 153.22,222.79 153.25,213.50 153.27,216.19 153.30,221.24 153.32,221.56 153.35,217.41 153.37,216.84 153.40,241.63 153.42,235.15 153.45,239.43 153.47,215.43 153.50,217.36 153.52,213.28 153.55,219.09 153.57,238.86 153.60,215.32 153.62,230.12 153.65,212.87 153.67,225.06 153.70,223.70 153.72,216.15 153.75,233.26 153.77,216.91 153.80,238.67 153.82,227.73 153.85,216.65 153.87,242.03 153.90,221.36 153.92,214.81 153.94,222.46 153.97,220.70 153.99,213.69 154.02,217.13 154.04,222.32 154.07,233.63 154.09,217.03 154.11,236.64 154.14,245.53 154.16,224.91 154.19,225.19 154.21,220.40 154.24,214.38 154.26,226.52 154.28,212.86 154.31,226.73 154.33,238.90 154.36,215.20 154.38,229.24 154.40,216.59 154.43,238.79 154.45,213.92 154.48,215.61 154.50,236.65 154.52,231.75 154.55,219.54 154.57,226.52 154.59,228.00 154.62,213.06 154.64,231.44 154.67,226.48 154.69,216.37 154.71,216.34 154.74,225.82 154.76,214.21 154.78,235.21 154.81,214.26 154.83,216.46 154.85,216.43 154.88,220.50 154.90,223.19 154.92,220.21 154.95,227.49 154.97,219.32 154.99,239.53 155.02,221.84 155.04,216.73 155.06,244.77 155.09,213.62 155.11,213.77 155.13,215.95 155.16,229.04 155.18,223.37 155.20,213.72 155.23,216.41 155.25,223.50 155.27,216.12 155.30,215.31 155.32,235.61 155.34,220.77 155.36,216.29 155.39,222.14 155.41,215.68 155.43,220.94 155.46,212.96 155.48,221.99 155.50,224.56 155.52,222.08 155.55,214.71 155.57,216.40 155.59,218.57 155.61,246.57 155.64,229.89 155.66,245.71 155.68,230.19 155.70,223.94 155.73,216.18 155.75,218.58 155.77,218.73 155.79,217.66 155.82,237.87 155.84,221.16 155.86,226.32 155.88,240.79 155.91,214.63 155.93,212.92 155.95,227.78 155.97,220.13 155.99,212.59 156.02,212.47 156.04,219.84 156.06,216.03 156.08,235.37 156.11,213.88 156.13,214.95 156.15,214.38 156.17,218.60 156.19,231.41 156.22,214.09 156.24,235.35 156.26,213.22 156.28,214.15 156.30,224.10 156.33,246.24 156.35,223.05 156.37,212.19 156.39,231.94 156.41,223.18 156.43,243.29 156.46,227.83 156.48,244.04 156.50,234.41 156.52,228.84 156.54,216.26 156.56,214.14 156.59,215.11 156.61,227.54 156.63,218.49 156.65,231.22 156.67,245.11 156.69,239.05 156.72,216.16 156.74,232.68 156.76,222.55 156.78,243.67 156.80,231.00 156.82,212.35 156.84,224.83 156.86,214.21 156.89,240.94 156.91,216.43 156.93,218.66 156.95,213.21 156.97,215.34 156.99,223.63 157.01,219.34 157.03,233.84 157.06,212.82 157.08,218.21 157.10,217.40 157.12,227.31 157.14,238.42 157.16,217.77 157.18,225.70 157.20,231.99 157.22,237.99 157.25,228.27 157.27,215.61 157.29,213.80 157.31,224.49 157.33,215.12 157.35,212.54 157.37,213.96 157.39,243.81 157.41,213.09 157.43,217.15 157.45,220.34 157.47,212.39 157.49,216.20 157.52,223.43 157.54,240.83 157.56,236.20 157.58,231.27 157.60,224.14 157.62,226.91 157.64,239.17 157.66,220.17 157.68,217.52 157.70,224.63 157.72,217.74 157.74,216.77 157.76,242.28 157.78,214.67 157.80,247.06 157.82,215.76 157.84,236.54 157.86,214.57 157.88,224.21 157.90,246.90 157.92,223.29 157.94,229.87 157.96,229.64 157.99,213.25 158.01,214.35 158.03,228.93 158.05,216.92 158.07,221.98 158.09,216.54 158.11,212.83 158.13,217.59 158.15,226.24 158.17,219.41 158.19,234.04 158.21,240.97 158.23,217.06 158.25,217.44 158.27,247.24 158.29,216.31 158.31,233.52 158.33,221.79 158.35,217.51 158.37,230.80 158.39,217.05 158.41,215.58 158.42,218.89 158.44,238.60 158.46,242.45 158.48,233.04 158.50,225.49 158.52,222.39 158.54,223.02 158.56,217.37 158.58,236.29 158.60,245.33 158.62,216.04 158.64,227.93 158.66,229.25 158.68,221.51 158.70,245.61 158.72,220.59 158.74,228.65 158.76,231.97 158.78,220.79 158.80,221.51 158.82,217.54 158.84,238.09 158.86,218.99 158.88,219.83 158.89,221.81 158.91,221.40 158.93,220.59 158.95,246.71 158.97,216.41 158.99,238.53 159.01,245.12 159.03,245.30 159.05,219.37 159.07,238.73 159.09,218.17 159.11,217.65 159.13,235.07 159.14,218.66 159.16,232.36 159.18,217.18 159.20,225.91 159.22,230.77 159.24,231.39 159.26,227.08 159.28,219.13 159.30,218.92 159.32,216.71 159.33,237.39 159.35,219.26 159.37,246.67 159.39,232.90 159.41,225.34 159.43,218.23 159.45,223.23 159.47,217.93 159.49,220.59 159.50,245.43 159.52,245.10 159.54,217.49 159.56,245.63 159.58,220.17 159.60,216.98 159.62,223.98 159.64,218.64 159.65,218.22 159.67,217.60 159.69,243.83 159.71,229.53 159.73,226.04 159.75,227.32 159.77,216.69 159.78,244.55 159.80,228.84 159.82,220.72 159.84,229.02 159.86,219.76 159.88,241.31 159.90,238.93 159.91,224.53 159.93,229.71 159.95,224.96 159.97,219.43 159.99,221.44 160.01,232.38 160.02,220.28 160.04,231.46 160.06,222.47 160.08,236.40 160.10,238.56 160.12,238.25 160.13,218.11 160.15,217.93 160.17,222.44 160.19,216.72 160.21,221.04 160.23,220.22 160.24,226.41 160.26,242.93 160.28,240.17 160.30,220.85 160.32,243.43 160.33,220.81 160.35,217.79 160.37,228.63 160.39,233.31 160.41,229.57 160.42,222.51 160.44,229.35 160.46,246.69 160.48,246.17 160.50,226.82 160.51,247.17 160.53,236.48 160.55,234.12 160.57,244.43 160.59,223.30 160.60,222.49 160.62,220.46 160.64,224.21 160.66,226.35 160.67,218.80 160.69,228.13 160.71,222.75 160.73,221.12 160.75,217.19 160.76,220.57 160.78,235.89 160.80,218.43 160.82,226.56 160.83,238.22 160.85,226.06 160.87,228.46 160.89,224.97 160.90,219.36 160.92,226.26 160.94,242.99 160.96,230.50 160.97,219.12 160.99,230.79 161.01,237.33 161.03,231.36 161.04,233.78 161.06,217.60 161.08,233.69 161.10,217.22 161.11,218.47 161.13,217.81 161.15,224.29 161.17,220.38 161.18,222.28 161.20,218.15 161.22,219.24 161.24,220.92 161.25,223.41 161.27,228.12 161.29,221.62 161.30,229.94 161.32,229.47 161.34,227.99 161.36,229.83 161.37,236.94 161.39,220.28 161.41,225.58 161.43,225.09 161.44,222.51 161.46,228.16 161.48,230.56 161.49,226.59 161.51,232.12 161.53,220.73 161.55,246.04 161.56,225.86 161.58,221.96 161.60,234.88 161.61,230.22 161.63,237.39 161.65,221.17 161.66,230.30 161.68,222.39 161.70,248.23 161.72,221.98 161.73,223.38 161.75,230.38 161.77,239.43 161.78,224.79 161.80,227.25 161.82,228.46 161.83,221.80 161.85,247.61 161.87,223.81 161.88,247.48 161.90,229.03 161.92,222.13 161.93,221.32 161.95,219.62 161.97,241.41 161.98,229.36 162.00,227.22 162.02,222.77 162.03,222.14 162.05,240.09 162.07,228.76 162.08,246.07 162.10,220.46 162.12,223.60 162.13,232.54 162.15,220.20 162.17,223.35 162.18,217.67 162.20,222.40 162.22,243.08 162.23,222.48 162.25,221.91 162.27,231.82 162.28,226.26 162.30,217.94 162.32,220.92 162.33,221.50 162.35,222.52 162.36,221.82 162.38,232.74 162.40,229.99 162.41,231.48 162.43,228.34 162.45,221.60 162.46,229.43 162.48,222.86 162.50,239.55 162.51,230.01 162.53,241.04 162.54,223.71 162.56,247.98 162.58,218.54 162.59,227.96 162.61,221.97 162.63,237.14 162.64,225.57 162.66,222.40 162.67,227.58 162.69,226.21 162.71,218.80 162.72,225.17 162.74,223.08 162.75,246.28 162.77,228.75 162.79,224.52 162.80,223.98 162.82,232.43 162.84,219.45 162.85,226.62 162.87,230.92 162.88,219.26 162.90,223.52 162.92,220.20 162.93,221.87 162.95,219.74 162.96,230.07 162.98,219.26 163.00,227.32 163.01,222.11 163.03,224.58 163.04,240.09 163.06,229.90 163.07,222.77 163.09,232.70 163.11,235.85 163.12,229.88 163.14,220.88 163.15,223.76 163.17,220.09 163.19,241.29 163.20,236.04 163.22,232.09 163.23,225.91 163.25,230.48 163.26,223.54 163.28,232.94 163.30,220.38 163.31,238.11 163.33,220.03 163.34,230.98 163.36,235.02 163.37,224.11 163.39,226.29 163.41,228.34 163.42,225.59 163.44,222.56 163.45,218.52 163.47,248.62 163.48,223.97 163.50,223.20 163.51,230.91 163.53,222.22 163.55,228.76 163.56,234.17 163.58,246.01 163.59,246.01 163.61,226.82 163.62,226.28 163.64,229.86 163.65,225.17 163.67,235.98 163.68,225.58 163.70,228.09 163.72,220.85 163.73,242.53 163.75,236.01 163.76,236.29 163.78,222.00 163.79,224.09 163.81,244.93 163.82,229.20 163.84,222.46 163.85,228.84 163.87,231.79 163.88,223.68 163.90,223.51 163.91,234.22 163.93,221.56 163.94,225.17 163.96,224.58 163.98,229.13 163.99,219.67 164.01,231.92 164.02,245.96 164.04,242.61 164.05,243.85 164.07,222.94 164.08,219.53 164.10,222.25 164.11,224.28 164.13,223.58 164.14,230.43 164.16,223.03 164.17,240.27 164.19,228.09 164.20,241.66 164.22,229.34 164.23,223.15 164.25,221.31 164.26,227.90 164.28,240.69 164.29,247.87 164.31,229.52 164.32,228.94 164.34,231.25 164.35,227.43 164.37,237.09 164.38,237.60 164.40,248.33 164.41,219.45 164.43,228.72 164.44,219.21 164.46,222.42 164.47,224.13 164.49,224.45 164.50,247.21 164.52,234.72 164.53,242.25 164.54,246.66 164.56,228.63 164.57,231.02 164.59,232.07 164.60,246.00 164.62,222.92 164.63,227.21 164.65,227.39 164.66,223.38 164.68,221.52 164.69,233.71 164.71,227.95 164.72,234.99 164.74,229.45 164.75,229.42 164.77,248.57 164.78,223.75 164.79,223.26 164.81,227.52 164.82,248.13 164.84,242.48 164.85,223.32 164.87,227.48 164.88,222.83 164.90,222.10 164.91,242.49 164.93,223.63 164.94,221.00 164.96,227.30 164.97,233.36 164.98,232.67 165.00,224.53 165.01,223.84 165.03,224.68 165.04,226.89 165.06,222.38 165.07,234.41 165.09,222.46 165.10,230.85 165.11,247.96 165.13,224.19 165.14,224.34 165.16,235.84 165.17,224.30 165.19,232.41 165.20,245.54 165.21,241.64 165.23,229.03 165.24,224.03 165.26,242.38 165.27,220.41 165.29,226.87 165.30,226.67 165.31,219.88 165.33,234.18 165.34,221.75 165.36,243.20 165.37,245.70 165.39,224.97 165.40,225.66 165.41,224.89 165.43,224.76 165.44,228.98 165.46,223.75 165.47,221.44 165.49,227.27 165.50,238.76 165.51,244.50 165.53,238.72 165.54,244.71 165.56,227.76 165.57,238.15 165.58,220.34 165.60,223.40 165.61,248.66 165.63,226.98 165.64,234.14 165.65,223.18 165.67,231.91 165.68,223.65 165.70,224.59 165.71,232.18 165.72,233.85 165.74,224.62 165.75,242.89 165.77,243.64 165.78,244.11 165.79,225.83 165.81,232.42 165.82,224.49 165.84,222.30 165.85,229.21 165.86,229.23 165.88,222.57 165.89,243.29 165.91,243.21 165.92,222.96 165.93,225.37 165.95,230.10 165.96,241.57 165.97,233.08 165.99,245.58 166.00,224.51 166.02,233.72 166.03,236.02 166.04,233.54 166.06,226.64 166.07,239.04 166.08,232.81 166.10,222.52 166.11,232.57 166.13,226.35 166.14,231.03 166.15,239.94 166.17,226.06 166.18,224.40 166.19,227.84 166.21,222.81 166.22,226.83 166.24,222.57 166.25,237.70 166.26,230.02 166.28,225.09 166.29,225.79 166.30,224.15 166.32,222.04 166.33,241.08 166.34,231.19 166.36,237.42 166.37,226.30 166.39,239.22 166.40,236.92 166.41,223.76 166.43,226.47 166.44,227.49 166.45,227.77 166.47,236.89 166.48,226.05 166.49,234.46 166.51,221.89 166.52,230.42 166.53,241.83 166.55,243.95 166.56,224.82 166.57,228.20 166.59,236.38 166.60,224.02 166.61,224.45 166.63,227.84 166.64,227.08 166.65,225.96 166.67,238.12 166.68,223.18 166.69,224.04 166.71,222.86 166.72,235.27 166.73,237.74 166.75,247.66 166.76,239.71 166.77,223.00 166.79,241.79 166.80,244.35 166.81,225.87 166.83,225.79 166.84,238.21 166.85,243.49 166.87,221.06 166.88,225.66 166.89,224.71 166.91,225.38 166.92,237.48 166.93,223.74 166.95,241.22 166.96,230.86 166.97,230.99 166.99,230.72 167.00,228.31 167.01,237.18 167.03,224.12 167.04,227.67 167.05,233.64 167.07,235.37 167.08,229.99 167.09,225.60 167.10,245.85 167.12,222.89 167.13,226.53 167.14,230.52 167.16,226.42 167.17,247.31 167.18,241.68 167.20,225.92 167.21,230.52 167.22,236.30 167.24,224.94 167.25,224.01 167.26,234.78 167.27,239.01 167.29,248.97 167.30,221.78 167.31,235.88 167.33,241.92 167.34,221.92 167.35,223.74 167.37,229.51 167.38,225.26 167.39,234.26 167.40,229.56 167.42,236.82 167.43,229.13 167.44,239.03 167.46,232.62 167.47,222.35 167.48,225.38 167.49,240.86 167.51,221.91 167.52,233.77 167.53,224.61 167.55,243.56 167.56,223.94 167.57,227.72 167.58,228.44 167.60,243.21 167.61,227.42 167.62,231.42 167.63,231.84 167.65,235.65 167.66,224.39 167.67,236.05 167.69,225.17 167.70,230.46 167.71,239.21 167.72,230.67 167.74,226.79 167.75,225.74 167.76,233.39 167.78,224.14 167.79,243.26 167.80,221.76 167.81,225.50 167.83,242.76 167.84,226.66 167.85,226.96 167.86,225.47 167.88,232.06 167.89,225.16 167.90,225.48 167.91,235.24 167.93,232.01 167.94,226.52 167.95,243.26 167.96,240.32 167.98,226.71 167.99,241.37 168.00,224.88 168.01,222.66 168.03,225.31 168.04,226.10 168.05,234.32 168.06,229.15 168.08,226.20 168.09,225.61 168.10,224.60 168.11,222.20 168.13,230.55 168.14,230.27 168.15,223.91 168.16,225.94 168.18,225.27 168.19,248.35 168.20,222.99 168.21,224.58 168.23,227.43 168.24,228.93 168.25,226.67 168.26,228.25 168.28,231.38 168.29,226.54 168.30,230.95 168.31,226.36 168.33,240.78 168.34,226.67 168.35,226.72 168.36,225.83 168.38,231.92 168.39,232.39 168.40,230.74 168.41,224.69 168.42,225.59 168.44,235.49 168.45,225.87 168.46,226.12 168.47,226.71 168.49,225.06 168.50,228.21 168.51,224.57 168.52,243.10 168.54,233.31 168.55,228.48 168.56,239.96 168.57,225.78 168.58,239.03 168.60,223.35 168.61,226.80 168.62,226.07 168.63,226.91 168.64,224.77 168.66,227.79 168.67,234.26 168.68,229.46 168.69,227.42 168.71,229.28 168.72,226.34 168.73,244.82 168.74,223.31 168.75,229.82 168.77,233.88 168.78,242.18 168.79,238.68 168.80,243.09 168.81,232.19 168.83,229.36 168.84,226.44 168.85,225.07 168.86,226.08 168.88,228.26 168.89,224.66 168.90,227.78 168.91,224.22 168.92,225.33 168.94,224.80 168.95,225.37 168.96,233.41 168.97,244.17 168.98,232.02 169.00,238.14 169.01,238.27 169.02,232.88 169.03,245.79 169.04,244.65 169.05,228.32 169.07,224.29 169.08,235.89 169.09,240.70 169.10,227.23 169.11,226.98 169.13,222.23 169.14,228.50 169.15,233.08 169.16,228.77 169.17,242.08 169.19,242.17 169.20,222.79 169.21,224.42 169.22,227.37 169.23,225.56 169.25,225.16 169.26,235.33 169.27,224.82 169.28,226.61 169.29,245.79 169.30,230.99 169.32,234.73 169.33,227.74 169.34,224.26 169.35,233.24 169.36,228.10 169.37,230.04 169.39,240.15 169.40,225.61 169.41,241.22 169.42,243.43 169.43,231.74 169.45,227.10 169.46,222.90 169.47,234.68 169.48,224.95 169.49,227.07 169.50,227.21 169.52,231.20 169.53,247.61 169.54,224.51 169.55,230.07 169.56,234.37 169.57,225.05 169.59,234.50 169.60,227.11 169.61,240.79 169.62,228.56 169.63,240.53 169.64,232.03 169.66,238.93 169.67,223.89 169.68,226.01 169.69,229.01 169.70,226.34 169.71,226.01 169.72,232.05 169.74,226.54 169.75,224.70 169.76,241.11 169.77,243.27 169.78,223.67 169.79,233.28 169.81,241.71 169.82,226.71 169.83,229.35 169.84,230.25 169.85,225.54 169.86,224.75 169.87,242.11 169.89,225.90 169.90,228.32 169.91,227.38 169.92,239.78 169.93,248.18 169.94,227.40 169.95,227.80 169.97,227.40 169.98,224.74 169.99,228.60 170.00,230.40 170.01,246.45 170.02,231.22 170.03,227.75 170.05,239.19 170.06,233.85 170.07,240.10 170.08,227.43 170.09,229.26 170.10,234.29 170.11,234.50 170.13,225.34 170.14,239.49 170.15,232.62 170.16,234.60 170.17,233.42 170.18,245.87 170.19,230.73 170.20,246.96 170.22,227.18 170.23,224.01 170.24,232.08 170.25,227.48 170.26,227.17 170.27,227.44 170.28,228.25 170.30,226.49 170.31,224.49 170.32,226.90 170.33,232.18 170.34,224.79 170.35,229.60 170.36,223.95 170.37,228.90 170.39,232.11 170.40,224.34 170.41,248.87 170.42,244.32 170.43,226.86 170.44,228.87 170.45,227.26 170.46,238.01 170.47,230.19 170.49,237.37 170.50,235.43 170.51,229.69 170.52,227.90 170.53,227.30 170.54,231.97 170.55,224.24 170.56,231.02 170.57,225.55 170.59,243.91 170.60,229.96 170.61,225.60 170.62,239.93 170.63,227.71 170.64,226.93 170.65,232.51 170.66,228.25 170.67,247.25 170.69,235.25 170.70,233.97 170.71,226.70 170.72,234.49 170.73,224.90 170.74,227.51 170.75,245.41 170.76,229.83 170.77,230.39 170.78,228.05 170.80,227.87 170.81,236.42 170.82,229.03 170.83,227.12 170.84,226.09 170.85,232.71 170.86,231.08 170.87,226.09 170.88,244.92 170.89,238.07 170.91,228.06 170.92,225.40 170.93,227.29 170.94,228.52 170.95,248.23 170.96,227.39 170.97,223.79 170.98,235.35 170.99,226.92 171.00,240.12 171.01,239.05 171.03,224.16 171.04,227.20 171.05,227.66 171.06,237.74 171.07,223.66 171.08,232.31 171.09,229.17 171.10,224.85 171.11,248.58 171.12,231.70 171.13,226.73 171.14,237.78 171.16,227.56 171.17,234.63 171.18,229.65 171.19,225.45 171.20,230.29 171.21,229.93 171.22,228.35 171.23,241.91 171.24,242.70 171.25,242.46 171.26,224.83 171.27,224.44 171.28,238.81 171.30,239.41 171.31,228.42 171.32,224.81 171.33,248.21 171.34,227.83 171.35,241.75 171.36,227.28 171.37,228.77 171.38,236.34 171.39,235.92 171.40,237.89 171.41,241.53 171.42,225.41 171.43,234.94 171.45,233.52 171.46,231.54 171.47,243.90 171.48,243.22 171.49,230.68 171.50,228.65 171.51,244.01 171.52,234.53 171.53,240.58 171.54,225.31 171.55,247.11 171.56,240.00 171.57,246.48 171.58,237.49 171.59,242.29 171.60,236.34 171.62,243.44 171.63,234.71 171.64,235.81 171.65,247.67 171.66,233.72 171.67,227.23 171.68,236.67 171.69,236.74 171.70,229.79 171.71,248.31" fill="none" stroke="#00a651" stroke-width="0.5" stroke-linejoin="round" />
<line x1="164.4" y1="240" x2="164.4" y2="263" stroke="#00a651" stroke-width="0.6"/>
<polyline points="26.60,172.40 35.10,172.40 41.00,184.70 45.70,177.20 50.00,176.70 50.45,176.26 50.90,175.07 51.35,173.45 51.80,171.82 52.25,170.64 52.70,170.20 53.23,169.78 53.77,168.65 54.30,167.10 54.83,165.55 55.37,164.42 55.90,164.00 56.33,163.93 56.77,163.75 57.20,163.50 57.63,163.25 58.07,163.07 58.50,163.00 58.95,163.16 59.40,163.60 59.85,164.20 60.30,164.80 60.75,165.24 61.20,165.40 61.73,166.11 62.27,168.05 62.80,170.70 63.33,173.35 63.87,175.29 64.40,176.00 64.77,176.87 65.13,179.25 65.50,182.50 65.87,185.75 66.23,188.13 66.60,189.00 67.00,188.26 67.40,186.25 67.80,183.50 68.20,180.75 68.60,178.74 69.00,178.00 69.63,177.09 70.27,174.60 70.90,171.20 71.53,167.80 72.17,165.31 72.80,164.40 73.17,165.11 73.53,167.05 73.90,169.70 74.27,172.35 74.63,174.29 75.00,175.00 75.33,176.00 75.67,178.72 76.00,182.45 76.33,186.18 76.67,188.90 77.00,189.90 77.33,188.97 77.67,186.43 78.00,182.95 78.33,179.47 78.67,176.93 79.00,176.00 79.38,175.34 79.77,173.55 80.15,171.10 80.53,168.65 80.92,166.86 81.30,166.20 81.97,167.71 82.63,171.85 83.30,177.50 83.97,183.15 84.63,187.29 85.30,188.80 85.70,187.25 86.10,183.00 86.50,177.20 86.90,171.40 87.30,167.15 87.70,165.60 88.13,167.37 88.57,172.20 89.00,178.80 89.43,185.40 89.87,190.23 90.30,192.00 90.65,190.31 91.00,185.68 91.35,179.35 91.70,173.03 92.05,168.39 92.40,166.70 92.77,168.26 93.13,172.52 93.50,178.35 93.87,184.17 94.23,188.44 94.60,190.00 94.87,188.47 95.13,184.30 95.40,178.60 95.67,172.90 95.93,168.73 96.20,167.20 96.47,168.73 96.73,172.90 97.00,178.60 97.27,184.30 97.53,188.47 97.80,190.00 99.32,167.89" fill="none" stroke="#ed1c24" stroke-width="0.75" stroke-linejoin="round" />
<polyline points="97.80,190.00 99.32,167.89 99.65,169.36 99.97,172.33 100.28,175.72 100.59,180.76 100.90,184.67 101.20,190.95 101.50,192.28 101.79,191.15 102.08,190.30 102.37,189.38 102.65,184.94 102.93,181.91 103.20,177.02 103.47,170.53 103.74,170.04 104.00,171.45 104.27,174.25 104.52,176.03 104.78,181.99 105.03,185.70 105.28,187.42 105.52,187.36 105.77,190.60 106.01,195.26 106.24,190.95 106.48,189.81 106.71,180.24 106.94,178.47 107.17,175.63 107.39,172.09 107.61,168.55 107.83,178.54 108.05,181.14 108.27,176.06 108.48,181.61 108.69,189.74 108.90,191.88 109.11,195.96 109.31,185.53 109.52,194.13 109.72,195.36 109.92,184.72 110.11,181.78 110.31,174.23 110.50,184.50 110.69,172.99 110.88,180.98 111.07,181.91 111.26,181.78 111.44,184.13 111.63,188.52 111.81,193.95 111.99,178.85 112.17,191.53 112.35,191.63 112.52,190.61 112.70,183.50 112.87,188.43 113.04,182.33 113.21,187.90 113.38,183.52 113.55,172.25 113.71,182.53 113.88,186.25 114.04,170.43 114.20,185.90 114.37,186.73 114.53,178.69 114.68,181.71 114.84,175.72 115.00,189.30 115.15,194.81 115.31,179.46 115.46,192.11 115.61,185.53 115.76,178.87 115.91,190.61 116.06,186.16 116.21,185.65 116.35,196.11 116.50,193.87 116.64,186.75 116.79,189.34 116.93,183.25 117.07,198.20 117.21,197.02 117.35,198.71 117.49,180.71 117.63,180.00 117.77,189.19 117.90,193.58 118.04,187.06 118.17,193.75 118.30,177.47 118.44,189.39 118.57,189.33 118.70,193.43 118.83,182.50 118.96,185.87 119.09,203.34 119.22,197.63 119.34,174.44 119.47,188.93 119.59,186.57 119.72,184.31 119.84,181.91 119.97,195.80 120.09,181.77 120.21,178.15 120.33,187.35 120.45,189.69 120.57,180.60 120.69,212.44 120.81,200.61 120.93,196.65 121.05,199.60 121.16,182.55 121.28,190.89 121.39,202.97 121.51,211.16 121.62,198.12 121.73,183.46 121.85,199.87 121.96,193.63 122.07,188.68 122.18,191.78 122.29,182.19 122.40,179.08 122.51,195.06 122.62,192.98 122.73,178.12 122.84,182.07 122.94,184.36 123.05,205.30 123.16,194.01 123.26,201.88 123.37,179.62 123.47,182.21 123.57,185.31 123.68,198.38 123.78,187.70 123.88,192.06 123.98,186.77 124.09,221.08 124.19,212.82 124.29,193.03 124.39,178.86 124.49,186.43 124.59,180.36 124.68,180.65 124.78,223.03 124.88,202.19 124.98,189.35 125.07,194.85 125.17,196.58 125.27,177.04 125.36,187.54 125.46,185.09 125.55,196.86 125.64,183.17 125.74,194.54 125.83,176.67 125.92,216.00 126.02,191.11 126.11,178.57 126.20,209.79 126.29,187.80 126.38,188.12 126.47,177.72 126.56,191.05 126.65,179.09 126.74,192.07 126.83,201.04 126.92,192.09 127.01,187.49 127.10,202.78 127.18,200.37 127.27,185.75 127.36,200.26 127.44,179.25 127.53,189.18 127.61,178.71 127.70,182.70 127.79,179.82 127.87,198.61 127.95,195.83 128.04,189.78 128.12,204.57 128.20,184.81 128.29,180.88 128.37,184.72 128.45,179.00 128.53,208.79 128.62,202.11 128.70,183.92 128.78,218.25 128.86,198.38 128.94,182.26 129.02,204.62 129.10,186.61 129.18,190.08 129.26,204.71 129.34,194.90 129.42,226.61 129.49,194.47 129.57,189.21 129.65,183.75 129.73,199.67 129.81,185.25 129.88,202.61 129.96,182.37 130.04,179.42 130.11,198.98 130.19,201.30 130.26,203.24 130.34,217.59 130.41,183.98 130.49,179.56 130.56,192.42 130.64,206.88 130.71,198.70 130.78,201.76 130.86,198.42 130.93,181.43 131.00,195.73 131.08,188.05 131.15,199.67 131.22,198.42 131.29,198.97 131.36,196.87 131.44,204.94 131.51,195.09 131.58,190.83 131.65,205.17 131.72,190.85 131.79,195.58 131.86,204.95 131.93,187.70 132.00,184.97 132.07,186.63 132.14,203.56 132.21,192.10 132.27,205.71 132.34,197.39 132.41,181.36 132.48,197.39 132.55,197.17 132.61,200.96 132.68,203.96 132.75,204.44 132.82,186.97 132.88,193.96 132.95,184.94 133.01,197.94 133.08,201.38 133.15,200.75 133.21,198.28 133.28,183.45 133.34,191.19 133.41,201.71 133.47,196.05 133.54,197.60 133.60,194.72 133.67,182.60 133.73,189.03 133.79,190.71 133.86,191.53 133.92,200.62 133.98,189.08 134.05,217.76 134.11,199.81 134.17,183.32 134.24,196.24 134.30,183.21 134.36,180.69 134.42,181.02 134.48,191.70 134.55,186.92 134.61,194.33 134.67,208.48 134.73,182.10 134.79,193.30 134.85,199.49 134.91,181.25 134.97,206.28 135.03,191.71 135.09,206.85 135.15,193.01 135.21,186.96 135.27,194.44 135.33,184.21 135.39,182.75 135.45,206.78 135.51,205.11 135.57,184.61 135.62,213.89 135.68,188.49 135.74,203.61 135.80,209.58 135.86,183.88 135.91,191.56 135.97,209.37 136.03,188.42 136.09,184.57 136.14,180.82 136.20,195.65 136.26,182.26 136.31,192.12 136.37,189.50 136.43,208.32 136.48,201.99 136.54,210.26 136.60,208.59 136.65,202.73 136.71,208.41 136.76,205.58 136.82,195.49 136.87,212.49 136.93,184.93 136.98,188.92 137.04,188.52 137.09,192.35 137.15,188.57 137.20,207.77 137.25,182.17 137.31,227.26 137.36,222.62 137.42,202.57 137.47,187.61 137.52,182.99 137.58,183.18 137.63,207.84 137.68,200.48 137.74,203.83 137.79,181.67 137.84,208.25 137.89,188.19 137.95,187.95 138.00,184.37 138.05,201.07 138.10,196.51 138.15,198.94 138.21,190.21 138.26,208.44 138.31,194.72 138.36,191.20 138.41,193.10 138.46,200.88 138.51,186.44 138.57,186.15 138.62,230.80 138.67,201.28 138.72,194.97 138.77,185.47 138.82,207.91 138.87,188.87 138.92,208.71 138.97,195.54 139.02,199.68 139.07,198.28 139.12,197.10 139.17,187.63 139.22,211.34 139.26,192.06 139.31,196.33 139.36,209.55 139.41,209.59 139.46,199.16 139.51,210.17 139.56,209.61 139.61,192.59 139.65,197.60 139.70,188.53 139.75,204.58 139.80,188.49 139.85,196.96 139.89,189.28 139.94,200.59 139.99,186.26 140.04,205.60 140.08,202.21 140.13,209.87 140.18,208.73 140.23,196.11 140.27,202.69 140.32,184.77 140.37,208.15 140.41,207.74 140.46,204.85 140.51,201.62 140.55,228.05 140.60,222.97 140.64,187.96 140.69,208.26 140.74,202.69 140.78,190.98 140.83,202.86 140.87,198.62 140.92,205.08 140.96,205.72 141.01,186.27 141.05,212.82 141.10,187.50 141.14,207.04 141.19,185.20 141.23,202.03 141.28,204.64 141.32,185.03 141.37,190.13 141.41,187.27 141.46,221.24 141.50,205.07 141.55,211.45 141.59,190.55 141.63,221.86 141.68,204.11 141.72,206.10 141.77,206.98 141.81,203.14 141.85,197.00 141.90,191.47 141.94,189.80 141.98,194.78 142.03,194.68 142.07,184.45 142.11,223.94 142.15,208.29 142.20,186.52 142.24,185.90 142.28,198.02 142.33,210.81 142.37,189.12 142.41,208.06 142.45,207.89 142.49,190.53 142.54,186.87 142.58,193.47 142.62,193.14 142.66,199.26 142.70,210.89 142.75,199.10 142.79,188.49 142.83,186.13 142.87,192.57 142.91,211.43 142.95,194.20 142.99,194.10 143.04,197.62 143.08,193.67 143.12,218.05 143.16,191.78 143.20,194.22 143.24,200.84 143.28,202.20 143.32,187.82 143.36,193.01 143.40,201.49 143.44,215.86 143.48,210.91 143.52,202.59 143.56,184.86 143.60,193.78 143.64,209.42 143.68,209.26 143.72,193.42 143.76,210.44 143.80,212.18 143.84,209.63 143.88,206.36 143.92,192.30 143.96,211.94 144.00,202.59 144.04,197.67 144.08,208.60 144.12,199.06 144.16,211.11 144.19,194.31 144.23,223.90 144.27,218.52 144.31,207.82 144.35,185.25 144.39,213.72 144.43,186.29 144.47,206.47 144.50,207.76 144.54,192.48 144.58,205.93 144.62,193.57 144.66,206.26 144.69,201.15 144.73,219.44 144.77,188.18 144.81,195.59 144.85,209.57 144.88,194.27 144.92,203.58 144.96,193.52 145.00,202.14 145.03,193.77 145.07,204.56 145.11,206.55 145.15,188.41 145.18,206.65 145.22,203.60 145.26,190.50 145.29,187.81 145.33,199.10 145.37,194.00 145.40,204.49 145.44,199.03 145.48,189.08 145.51,190.92 145.55,185.79 145.59,186.12 145.62,197.07 145.66,195.66 145.70,185.90 145.73,211.76 145.77,199.53 145.80,205.07 145.84,201.26 145.88,224.74 145.91,195.21 145.95,203.66 145.98,212.79 146.02,206.29 146.06,203.84 146.09,192.26 146.13,206.88 146.16,213.30 146.20,214.85 146.23,213.83 146.27,204.89 146.30,211.03 146.34,203.86 146.37,209.39 146.41,198.34 146.44,208.05 146.48,201.48 146.51,211.30 146.55,200.41 146.58,233.85 146.62,218.99 146.65,194.13 146.69,193.10 146.72,212.32 146.76,193.67 146.79,189.60 146.82,208.63 146.86,193.46 146.89,200.19 146.93,194.07 146.96,189.30 147.00,202.13 147.03,232.79 147.06,186.39 147.10,207.26 147.13,186.54 147.16,212.93 147.20,215.23 147.23,188.84 147.27,199.68 147.30,200.34 147.33,193.63 147.37,193.47 147.40,201.82 147.43,201.77 147.47,187.46 147.50,186.93 147.53,193.45 147.57,192.78 147.60,188.70 147.63,203.54 147.67,188.09 147.70,224.04 147.73,204.05 147.76,188.67 147.80,199.79 147.83,201.16 147.86,214.41 147.89,212.64 147.93,196.31 147.96,214.08 147.99,195.10 148.03,222.69 148.06,192.02 148.09,197.88 148.12,214.53 148.15,232.97 148.19,192.86 148.22,204.98 148.25,199.61 148.28,234.39 148.31,197.37 148.35,209.87 148.38,212.85 148.41,200.63 148.44,197.77 148.47,204.94 148.51,207.07 148.54,200.14 148.57,205.42 148.60,208.03 148.63,229.47 148.66,216.76 148.70,197.95 148.73,213.72 148.76,216.07 148.79,206.21 148.82,205.26 148.85,211.63 148.88,208.93 148.91,197.34 148.94,201.39 148.98,195.45 149.01,204.59 149.04,205.72 149.07,202.20 149.10,198.67 149.13,191.62 149.16,209.44 149.19,204.56 149.22,208.97 149.25,211.39 149.28,199.26 149.31,194.42 149.34,227.93 149.38,205.03 149.41,209.09 149.44,196.98 149.47,205.64 149.50,202.61 149.53,200.04 149.56,220.02 149.59,207.95 149.62,211.63 149.65,209.81 149.68,227.05 149.71,213.45 149.74,203.73 149.77,207.45 149.80,198.33 149.83,208.03 149.86,192.96 149.89,202.87 149.92,195.72 149.95,194.33 149.97,208.04 150.00,214.35 150.03,206.11 150.06,193.25 150.09,224.18 150.12,202.94 150.15,208.07 150.18,203.94 150.21,207.08 150.24,191.94 150.27,234.11 150.30,213.27 150.33,192.51 150.36,202.52 150.38,215.59 150.41,217.03 150.44,194.96 150.47,202.74 150.50,206.14 150.53,204.80 150.56,193.57 150.59,199.19 150.62,217.08 150.64,216.98 150.67,201.75 150.70,199.08 150.73,204.37 150.76,193.74 150.79,191.88 150.81,211.44 150.84,216.31 150.87,215.88 150.90,202.89 150.93,211.14 150.96,209.77 150.98,197.51 151.01,226.61 151.04,216.73 151.07,206.95 151.10,202.98 151.12,205.57 151.15,208.75 151.18,218.17 151.21,191.43 151.24,213.39 151.26,193.08 151.29,194.31 151.32,194.99 151.35,213.68 151.38,210.70 151.40,202.24 151.43,215.97 151.46,208.12 151.49,206.67 151.51,197.51 151.54,202.30 151.57,198.36 151.60,195.09 151.62,209.00 151.65,207.37 151.68,206.23 151.70,204.63 151.73,214.14 151.76,197.44 151.79,199.13 151.81,208.38 151.84,205.91 151.87,197.69 151.89,194.97 151.92,204.68 151.95,195.89 151.98,194.97 152.00,196.47 152.03,196.85 152.06,218.99 152.08,209.65 152.11,210.86 152.14,218.88 152.16,192.95 152.19,213.10 152.22,208.92 152.24,193.34 152.27,211.14 152.30,194.26 152.32,204.29 152.35,213.23 152.37,205.13 152.40,200.54 152.43,213.87 152.45,214.41 152.48,217.81 152.51,202.18 152.53,215.60 152.56,198.54 152.58,196.71 152.61,197.94 152.64,210.52 152.66,206.90 152.69,206.65 152.71,199.16 152.74,202.08 152.77,213.65 152.79,200.13 152.82,195.36 152.84,203.51 152.87,215.71 152.90,205.84 152.92,203.07 152.95,208.89 152.97,218.89 153.00,213.28 153.02,203.91 153.05,211.73 153.07,196.36 153.10,193.17 153.13,204.48 153.15,225.96 153.18,204.88 153.20,202.32 153.23,218.88 153.25,197.97 153.28,213.25 153.30,215.34 153.33,213.26 153.35,203.17 153.38,204.86 153.40,218.82 153.43,199.33 153.45,197.28 153.48,216.06 153.50,219.27 153.53,216.52 153.55,220.42 153.58,213.63 153.60,201.74 153.63,193.58 153.65,210.20 153.68,210.36 153.70,218.00 153.73,213.05 153.75,206.52 153.78,219.38 153.80,216.16 153.83,197.84 153.85,202.82 153.88,211.31 153.90,208.69 153.92,200.43 153.95,195.06 153.97,208.75 154.00,210.80 154.02,220.20 154.05,215.97 154.07,212.54 154.10,208.77 154.12,218.42 154.14,201.40 154.17,208.50 154.19,201.35 154.22,199.92 154.24,237.26 154.26,218.28 154.29,205.34 154.31,226.21 154.34,216.99 154.36,219.89 154.39,200.35 154.41,212.07 154.43,199.02 154.46,206.92 154.48,212.79 154.50,207.74 154.53,201.16 154.55,227.42 154.58,207.89 154.60,213.18 154.62,209.91 154.65,205.56 154.67,211.58 154.69,223.74 154.72,215.16 154.74,216.33 154.77,198.06 154.79,199.17 154.81,219.27 154.84,210.51 154.86,210.13 154.88,208.36 154.91,218.02 154.93,232.14 154.95,214.88 154.98,213.42 155.00,211.93 155.02,207.30 155.05,217.32 155.07,217.65 155.09,207.10 155.12,222.61 155.14,196.46 155.16,200.97 155.18,219.95 155.21,211.48 155.23,199.50 155.25,221.27 155.28,217.57 155.30,217.58 155.32,199.67 155.35,201.81 155.37,212.43 155.39,207.93 155.41,210.87 155.44,198.74 155.46,214.88 155.48,227.19 155.51,226.39 155.53,207.12 155.55,197.54 155.57,202.55 155.60,219.50 155.62,197.15 155.64,210.34 155.66,196.26 155.69,205.36 155.71,214.47 155.73,216.17 155.75,212.52 155.78,204.21 155.80,205.96 155.82,211.01 155.84,221.71 155.87,204.13 155.89,196.85 155.91,198.30 155.93,199.25 155.95,229.91 155.98,196.58 156.00,216.74 156.02,209.60 156.04,196.55 156.07,219.72 156.09,208.55 156.11,206.73 156.13,209.61 156.15,211.94 156.18,201.37 156.20,202.82 156.22,209.90 156.24,219.86 156.26,205.90 156.29,220.15 156.31,233.53 156.33,220.55 156.35,217.41 156.37,199.25 156.40,199.63 156.42,200.66 156.44,212.30 156.46,202.53 156.48,214.49 156.50,198.19 156.53,220.64 156.55,210.77 156.57,205.12 156.59,212.40 156.61,210.79 156.63,206.59 156.66,220.51 156.68,207.44 156.70,201.05 156.72,219.68 156.74,209.17 156.76,202.76 156.78,198.87 156.81,228.66 156.83,199.13 156.85,215.16 156.87,194.90 156.89,207.78 156.91,213.08 156.93,207.23 156.95,210.80 156.98,195.92 157.00,211.24 157.02,216.22 157.04,207.45 157.06,199.92 157.08,200.64 157.10,237.59 157.12,216.13 157.14,218.10 157.17,205.76 157.19,196.59 157.21,203.06 157.23,218.38 157.25,216.41 157.27,215.81 157.29,209.82 157.31,223.44 157.33,220.56 157.35,198.58 157.37,204.44 157.40,213.40 157.42,203.75 157.44,204.86 157.46,209.46 157.48,203.90 157.50,195.37 157.52,211.20 157.54,207.66 157.56,216.86 157.58,195.12 157.60,202.87 157.62,214.79 157.64,214.22 157.66,210.88 157.68,217.42 157.70,237.07 157.72,208.41 157.75,212.76 157.77,223.16 157.79,200.51 157.81,222.78 157.83,219.13 157.85,220.58 157.87,214.46 157.89,199.20 157.91,212.53 157.93,216.04 157.95,211.65 157.97,201.35 157.99,207.85 158.01,222.03 158.03,237.89 158.05,202.38 158.07,218.09 158.09,223.55 158.11,219.61 158.13,238.38 158.15,211.93 158.17,205.16 158.19,206.62 158.21,215.44 158.23,202.41 158.25,218.08 158.27,212.95 158.29,207.08 158.31,221.33 158.33,204.94 158.35,198.05 158.37,236.79 158.39,208.91 158.41,209.61 158.43,216.74 158.45,212.57 158.47,230.67 158.49,217.10 158.51,213.12 158.53,220.62 158.55,211.09 158.57,200.72 158.59,208.28 158.61,216.49 158.63,201.88 158.65,212.33 158.66,202.22 158.68,206.30 158.70,210.88 158.72,223.38 158.74,198.48 158.76,213.96 158.78,221.88 158.80,202.68 158.82,210.27 158.84,223.82 158.86,212.04 158.88,210.04 158.90,218.63 158.92,195.14 158.94,203.83 158.96,213.61 158.98,200.10 158.99,196.25 159.01,239.06 159.03,217.60 159.05,202.51 159.07,223.67 159.09,197.90 159.11,212.32 159.13,223.52 159.15,199.23 159.17,200.49 159.19,198.62 159.21,221.42 159.22,220.07 159.24,202.22 159.26,207.92 159.28,204.68 159.30,202.71 159.32,213.56 159.34,219.84 159.36,217.21 159.38,213.30 159.40,203.09 159.41,205.26 159.43,201.49 159.45,201.28 159.47,209.67 159.49,223.24 159.51,206.90 159.53,200.44 159.55,221.10 159.56,223.25 159.58,202.69 159.60,212.28 159.62,238.06 159.64,213.24 159.66,217.34 159.68,201.55 159.70,222.64 159.71,224.84 159.73,202.94 159.75,222.03 159.77,214.54 159.79,205.01 159.81,204.68 159.83,207.62 159.84,214.69 159.86,206.27 159.88,207.71 159.90,213.31 159.92,206.23 159.94,199.14 159.95,200.41 159.97,212.96 159.99,203.72 160.01,225.54 160.03,231.94 160.05,206.40 160.06,224.18 160.08,224.12 160.10,199.40 160.12,207.01 160.14,197.62 160.16,221.96 160.17,203.08 160.19,213.01 160.21,211.66 160.23,202.33 160.25,195.41 160.27,214.56 160.28,205.28 160.30,200.29 160.32,199.32 160.34,212.11 160.36,220.57 160.37,200.35 160.39,214.67 160.41,221.70 160.43,198.85 160.45,197.21 160.46,195.80 160.48,208.63 160.50,233.49 160.52,204.06 160.54,207.31 160.55,197.07 160.57,199.07 160.59,205.61 160.61,215.57 160.62,223.94 160.64,211.13 160.66,217.14 160.68,223.19 160.70,222.42 160.71,224.71 160.73,226.04 160.75,215.02 160.77,204.05 160.78,198.74 160.80,211.83 160.82,208.80 160.84,198.71 160.86,199.08 160.87,198.24 160.89,212.38 160.91,221.44 160.93,220.43 160.94,234.02 160.96,207.98 160.98,215.00 161.00,219.36 161.01,217.79 161.03,197.81 161.05,214.90 161.07,208.47 161.08,198.71 161.10,212.89 161.12,214.22 161.14,219.82 161.15,198.36 161.17,201.34 161.19,203.71 161.20,208.15 161.22,221.60 161.24,211.22 161.26,217.72 161.27,214.27 161.29,208.64 161.31,222.42 161.33,211.60 161.34,214.61 161.36,211.02 161.38,214.81 161.39,204.67 161.41,210.12 161.43,196.00 161.45,196.48 161.46,213.93 161.48,202.20 161.50,223.74 161.51,224.77 161.53,225.58 161.55,222.20 161.57,238.09 161.58,221.53 161.60,198.85 161.62,198.81 161.63,218.43 161.65,208.58 161.67,226.21 161.68,196.77 161.70,199.70 161.72,209.15 161.74,210.03 161.75,222.08 161.77,203.20 161.79,239.19 161.80,222.74 161.82,211.97 161.84,222.12 161.85,201.40 161.87,238.03 161.89,200.69 161.90,211.92 161.92,203.78 161.94,202.02 161.95,209.58 161.97,224.82 161.99,236.31 162.00,211.33 162.02,197.47 162.04,209.76 162.05,216.85 162.07,215.95 162.09,203.36 162.10,211.25 162.12,202.99 162.14,206.71 162.15,198.32 162.17,199.76 162.19,197.82 162.20,210.22 162.22,211.75 162.24,208.06 162.25,221.86 162.27,201.50 162.29,209.40 162.30,198.57 162.32,224.24 162.34,222.46 162.35,215.52 162.37,205.23 162.38,217.33 162.40,218.40 162.42,218.15 162.43,196.37 162.45,223.58 162.47,200.52 162.48,196.11 162.50,208.39 162.52,225.87 162.53,201.29 162.55,221.01 162.56,200.35 162.58,206.31 162.60,238.11 162.61,217.63 162.63,202.20 162.65,214.42 162.66,220.04 162.68,224.57 162.69,201.87 162.71,223.23 162.73,223.82 162.74,206.47 162.76,214.13 162.77,222.88 162.79,209.47 162.81,208.21 162.82,204.87 162.84,205.44 162.85,207.49 162.87,226.19 162.89,200.67 162.90,225.96 162.92,200.80 162.93,201.62 162.95,226.28 162.97,209.04 162.98,212.93 163.00,219.53 163.01,202.41 163.03,196.59 163.05,233.37 163.06,207.26 163.08,211.16 163.09,215.22 163.11,199.84 163.13,219.97 163.14,206.81 163.16,216.68 163.17,220.91 163.19,224.39 163.20,227.20 163.22,217.67 163.24,219.09 163.25,221.64 163.27,204.89 163.28,223.93 163.30,218.89 163.31,207.89 163.33,199.52 163.35,212.43 163.36,214.93 163.38,237.48 163.39,224.72 163.41,221.47 163.42,218.44 163.44,203.75 163.46,217.25 163.47,221.26 163.49,221.59 163.50,205.44 163.52,218.04 163.53,226.40 163.55,210.07 163.56,229.02 163.58,232.48 163.59,201.75 163.61,212.50 163.63,220.39 163.64,199.75 163.66,209.76 163.67,211.75 163.69,198.82 163.70,216.00 163.72,213.32 163.73,216.04 163.75,217.46 163.76,206.74 163.78,227.18 163.80,230.21 163.81,200.04 163.83,221.56 163.84,223.23 163.86,211.93 163.87,234.25 163.89,217.46 163.90,223.75 163.92,234.75 163.93,216.77 163.95,212.90 163.96,209.32 163.98,209.66 163.99,206.80 164.01,212.22 164.02,197.53 164.04,206.94 164.05,213.12 164.07,223.08 164.08,224.47 164.10,230.54 164.11,218.33 164.13,226.22 164.14,199.35 164.16,208.87 164.17,209.79 164.19,199.00 164.20,215.31 164.22,225.23 164.23,219.04 164.25,214.51 164.26,212.71 164.28,207.28 164.29,220.89 164.31,221.91 164.32,231.74 164.34,227.69 164.35,199.32 164.37,240.44 164.38,226.63 164.40,215.83 164.41,198.68 164.43,202.67 164.44,216.56 164.46,203.76 164.47,216.01 164.49,215.84 164.50,218.56 164.52,229.45 164.53,207.20 164.55,210.15 164.56,227.96 164.58,225.59 164.59,223.67 164.61,199.36 164.62,215.10 164.64,223.74 164.65,216.12 164.67,204.65 164.68,205.45 164.70,218.97 164.71,198.87 164.72,200.13 164.74,204.53 164.75,211.77 164.77,213.02 164.78,207.00 164.80,208.51 164.81,228.58 164.83,228.74 164.84,212.71 164.86,199.49 164.87,226.53 164.89,224.02 164.90,220.98 164.91,224.98 164.93,221.21 164.94,220.72 164.96,207.96 164.97,219.88 164.99,233.26 165.00,226.82 165.02,204.96 165.03,206.35 165.04,199.08 165.06,218.14 165.07,226.03 165.09,225.82 165.10,221.18 165.12,205.56 165.13,203.13 165.15,206.64 165.16,209.82 165.17,226.59 165.19,210.10 165.20,204.97 165.22,226.25 165.23,208.73 165.25,229.02 165.26,215.97 165.27,204.37 165.29,232.36 165.30,206.82 165.32,208.09 165.33,216.66 165.35,222.28 165.36,201.38 165.37,211.07 165.39,229.60 165.40,213.06 165.42,198.82 165.43,221.48 165.45,216.99 165.46,217.81 165.47,226.85 165.49,207.48 165.50,234.20 165.52,202.28 165.53,228.37 165.54,220.82 165.56,220.95 165.57,206.57 165.59,214.15 165.60,200.56 165.61,225.99 165.63,204.57 165.64,205.61 165.66,204.14 165.67,221.03 165.69,201.50 165.70,212.56 165.71,222.56 165.73,226.54 165.74,224.18 165.76,217.11 165.77,207.78 165.78,213.52 165.80,210.14 165.81,213.60 165.82,214.13 165.84,223.49 165.85,228.59 165.87,219.89 165.88,226.21 165.89,213.46 165.91,204.78 165.92,212.31 165.94,228.06 165.95,201.88 165.96,237.08 165.98,216.33 165.99,210.61 166.00,221.87 166.02,207.96 166.03,216.34 166.05,228.78 166.06,205.26 166.07,233.82 166.09,233.77 166.10,225.57 166.12,225.80 166.13,214.10 166.14,216.37 166.16,206.60 166.17,220.17 166.18,211.91 166.20,211.09 166.21,200.65 166.22,222.18 166.24,219.85 166.25,209.96 166.27,207.85 166.28,200.45 166.29,199.98 166.31,227.84 166.32,219.30 166.33,219.34 166.35,207.98 166.36,203.11 166.37,204.37 166.39,219.41 166.40,206.68 166.41,221.82 166.43,227.12 166.44,204.33 166.46,216.08 166.47,210.20 166.48,222.80 166.50,207.36 166.51,221.17 166.52,226.13 166.54,202.34 166.55,214.96 166.56,210.19 166.58,220.05 166.59,223.49 166.60,214.46 166.62,204.34 166.63,209.11 166.64,218.68 166.66,199.78 166.67,204.51 166.68,225.37 166.70,234.40 166.71,202.45 166.72,228.48 166.74,205.15 166.75,206.22 166.76,228.28 166.78,229.39 166.79,228.27 166.80,231.62 166.82,207.72 166.83,210.41 166.84,214.29 166.86,237.57 166.87,211.12 166.88,215.92 166.90,220.49 166.91,217.75 166.92,205.66 166.94,228.49 166.95,213.22 166.96,206.01 166.98,224.35 166.99,210.24 167.00,202.68 167.02,200.10 167.03,222.89 167.04,213.44 167.05,226.75 167.07,213.82 167.08,227.87 167.09,226.29 167.11,242.13 167.12,200.43 167.13,225.28 167.15,202.95 167.16,214.04 167.17,215.27 167.19,223.48 167.20,220.68 167.21,209.12 167.22,226.58 167.24,231.55 167.25,208.25 167.26,218.75 167.28,224.76 167.29,214.39 167.30,222.72 167.32,224.58 167.33,201.93 167.34,221.61 167.35,221.70 167.37,208.13 167.38,211.93 167.39,218.62 167.41,202.42 167.42,215.21 167.43,206.38 167.45,215.80 167.46,223.17 167.47,217.06 167.48,199.67 167.50,207.73 167.51,203.24 167.52,222.05 167.54,209.27 167.55,219.69 167.56,215.41 167.57,216.33 167.59,222.40 167.60,227.22 167.61,200.01 167.62,224.24 167.64,200.73 167.65,229.09 167.66,220.86 167.68,218.82 167.69,228.40 167.70,222.95 167.71,226.83 167.73,200.49 167.74,218.61 167.75,207.86 167.76,213.35 167.78,200.75 167.79,209.57 167.80,222.46 167.82,214.26 167.83,216.28 167.84,214.20 167.85,229.99 167.87,199.63 167.88,228.16 167.89,240.53 167.90,232.54 167.92,218.67 167.93,217.21 167.94,226.36 167.95,215.50 167.97,225.40 167.98,225.80 167.99,224.73 168.00,200.55 168.02,220.06 168.03,202.57 168.04,230.82 168.05,220.28 168.07,202.79 168.08,213.00 168.09,239.69 168.10,200.87 168.12,215.29 168.13,228.87 168.14,211.59 168.15,226.50 168.17,201.98 168.18,219.72 168.19,206.16 168.20,230.44 168.22,230.03 168.23,209.23 168.24,231.14 168.25,201.90 168.27,229.22 168.28,202.72 168.29,224.39 168.30,242.51 168.32,218.47 168.33,209.85 168.34,223.15 168.35,216.99 168.37,225.79 168.38,218.78 168.39,212.90 168.40,217.04 168.41,200.69 168.43,220.05 168.44,227.58 168.45,209.98 168.46,233.69 168.48,226.58 168.49,207.23 168.50,208.88 168.51,217.95 168.53,217.14 168.54,227.30 168.55,219.18 168.56,210.67 168.57,224.45 168.59,224.47 168.60,224.17 168.61,200.10 168.62,221.85 168.64,219.94 168.65,203.18 168.66,200.93 168.67,219.87 168.68,204.26 168.70,215.32 168.71,200.29 168.72,205.72 168.73,205.08 168.74,207.51 168.76,202.28 168.77,230.49 168.78,208.77 168.79,225.57 168.81,216.98 168.82,224.56 168.83,231.65 168.84,223.81 168.85,223.79 168.87,238.64 168.88,227.60 168.89,223.67 168.90,215.47 168.91,233.74 168.93,220.56 168.94,213.47 168.95,226.12 168.96,200.66 168.97,237.18 168.99,209.89 169.00,206.87 169.01,221.35 169.02,203.03 169.03,212.02 169.05,207.58 169.06,208.31 169.07,213.93 169.08,199.99 169.09,239.44 169.11,228.68 169.12,224.34 169.13,219.15 169.14,218.68 169.15,226.34 169.16,228.19 169.18,202.71 169.19,214.03 169.20,210.01 169.21,228.88 169.22,202.25 169.24,220.41 169.25,228.11 169.26,218.35 169.27,225.52 169.28,210.60 169.29,235.67 169.31,219.32 169.32,216.32 169.33,231.10 169.34,224.49 169.35,221.65 169.37,204.20 169.38,200.15 169.39,214.31 169.40,217.01 169.41,200.60 169.42,228.73 169.44,236.87 169.45,224.92 169.46,202.99 169.47,205.30 169.48,217.56 169.49,236.68 169.51,200.80 169.52,231.44 169.53,209.96 169.54,221.50 169.55,223.49 169.56,213.01 169.58,208.35 169.59,205.56 169.60,206.12 169.61,226.37 169.62,219.80 169.63,226.09 169.65,200.42 169.66,224.30 169.67,217.40 169.68,215.28 169.69,227.91 169.70,229.36 169.72,213.57 169.73,215.90 169.74,233.85 169.75,212.11 169.76,206.29 169.77,209.92 169.78,222.99 169.80,207.52 169.81,205.19 169.82,225.03 169.83,229.42 169.84,230.30 169.85,205.35 169.87,212.99 169.88,217.31 169.89,206.18 169.90,240.03 169.91,222.51 169.92,224.56 169.93,205.26 169.95,213.15 169.96,213.03 169.97,230.92 169.98,207.39 169.99,228.27 170.00,237.18 170.01,230.45 170.03,217.94 170.04,240.45 170.05,229.99 170.06,202.20 170.07,224.28 170.08,226.42 170.09,204.16 170.11,230.54 170.12,238.40 170.13,203.41 170.14,215.72 170.15,222.87 170.16,216.02 170.17,229.55 170.18,223.36 170.20,208.11 170.21,213.70 170.22,236.27 170.23,213.15 170.24,211.47 170.25,221.12 170.26,214.15 170.27,212.06 170.29,227.79 170.30,220.51 170.31,226.79 170.32,231.94 170.33,226.79 170.34,221.26 170.35,204.74 170.36,240.01 170.38,217.48 170.39,213.66 170.40,231.22 170.41,211.04 170.42,211.11 170.43,223.81 170.44,226.94 170.45,220.37 170.47,223.86 170.48,205.41 170.49,204.89 170.50,215.01 170.51,232.40 170.52,210.41 170.53,221.69 170.54,216.95 170.55,211.86 170.57,218.85 170.58,227.45 170.59,225.36 170.60,243.24 170.61,228.31 170.62,230.89 170.63,224.67 170.64,235.44 170.65,223.42 170.67,205.75 170.68,226.40 170.69,204.75 170.70,218.20 170.71,220.67 170.72,207.03 170.73,205.10 170.74,227.34 170.75,211.84 170.76,225.83 170.78,230.54 170.79,228.64 170.80,229.56 170.81,222.89 170.82,222.24 170.83,206.06 170.84,207.02 170.85,212.38 170.86,223.26 170.87,201.58 170.89,204.58 170.90,217.33 170.91,216.83 170.92,207.89 170.93,222.16 170.94,228.01 170.95,222.38 170.96,232.03 170.97,222.06 170.98,203.69 170.99,201.84 171.01,219.20 171.02,231.22 171.03,215.82 171.04,218.05 171.05,229.01 171.06,208.04 171.07,238.63 171.08,227.14 171.09,209.13 171.10,231.08 171.11,201.51 171.13,207.45 171.14,209.65 171.15,219.64 171.16,222.23 171.17,206.03 171.18,238.89 171.19,230.65 171.20,230.71 171.21,213.21 171.22,222.97 171.23,217.60 171.24,208.37 171.25,221.29 171.27,202.30 171.28,202.16 171.29,214.16 171.30,216.75 171.31,231.97 171.32,228.86 171.33,230.50 171.34,222.66 171.35,232.22 171.36,221.26 171.37,208.53 171.38,212.50 171.39,223.07 171.40,206.72 171.42,225.72 171.43,216.94 171.44,233.30 171.45,233.86 171.46,209.20 171.47,229.47 171.48,233.07 171.49,213.70 171.50,212.54 171.51,203.69 171.52,226.79 171.53,229.47 171.54,208.86 171.55,222.86 171.56,222.59 171.57,238.50 171.59,223.94 171.60,225.54 171.61,219.76 171.62,228.91 171.63,209.40 171.64,226.13 171.65,233.08 171.66,225.43 171.67,203.25 171.68,201.55 171.69,225.49 171.70,217.97" fill="none" stroke="#ed1c24" stroke-width="0.5" stroke-linejoin="round" />
<rect x="40.9" y="234.9" width="82.3" height="20.8" fill="#fff" stroke="#666" stroke-width="0.85"/>
<line x1="43.2" y1="240.4" x2="52.3" y2="240.4" stroke="#7cc68f" stroke-width="0.8"/>
<line x1="43.2" y1="250.1" x2="52.3" y2="250.1" stroke="#e84850" stroke-width="0.8"/>
<text x="60.7" y="243.7" font-size="7.0" fill="#231f20" stroke="#231f20" stroke-width="0.16" text-anchor="start" >0 mA (P=0 mW)</text>
<text x="61.1" y="253.5" font-size="7.0" fill="#231f20" stroke="#231f20" stroke-width="0.16" text-anchor="start" >8 mA (P=78.4 mW)</text>
<rect x="26.4" y="148.7" width="145.2" height="114.60000000000002" fill="none" stroke="#231f20" stroke-width="0.9"/>
<text x="198.5" y="153.9" font-size="9.6" fill="#ed1c24" stroke="#ed1c24" stroke-width="0.16" text-anchor="start" stroke-opacity="0">(d)</text>
<line x1="251.50" y1="254.4" x2="251.50" y2="252.4" stroke="#231f20" stroke-width="0.6"/>
<line x1="251.50" y1="151.7" x2="251.50" y2="153.7" stroke="#231f20" stroke-width="0.6"/>
<line x1="273.62" y1="254.4" x2="273.62" y2="252.4" stroke="#231f20" stroke-width="0.6"/>
<line x1="273.62" y1="151.7" x2="273.62" y2="153.7" stroke="#231f20" stroke-width="0.6"/>
<line x1="295.74" y1="254.4" x2="295.74" y2="252.4" stroke="#231f20" stroke-width="0.6"/>
<line x1="295.74" y1="151.7" x2="295.74" y2="153.7" stroke="#231f20" stroke-width="0.6"/>
<line x1="317.86" y1="254.4" x2="317.86" y2="252.4" stroke="#231f20" stroke-width="0.6"/>
<line x1="317.86" y1="151.7" x2="317.86" y2="153.7" stroke="#231f20" stroke-width="0.6"/>
<line x1="339.98" y1="254.4" x2="339.98" y2="252.4" stroke="#231f20" stroke-width="0.6"/>
<line x1="339.98" y1="151.7" x2="339.98" y2="153.7" stroke="#231f20" stroke-width="0.6"/>
<line x1="362.10" y1="254.4" x2="362.10" y2="252.4" stroke="#231f20" stroke-width="0.6"/>
<line x1="362.10" y1="151.7" x2="362.10" y2="153.7" stroke="#231f20" stroke-width="0.6"/>
<line x1="229.5" y1="220.16" x2="231.1" y2="220.16" stroke="#231f20" stroke-width="0.6"/>
<line x1="384.1" y1="220.16" x2="382.5" y2="220.16" stroke="#231f20" stroke-width="0.6"/>
<line x1="229.5" y1="185.92" x2="231.1" y2="185.92" stroke="#231f20" stroke-width="0.6"/>
<line x1="384.1" y1="185.92" x2="382.5" y2="185.92" stroke="#231f20" stroke-width="0.6"/>
<text x="229.6" y="262.5" font-size="6.9" fill="#231f20" stroke="#231f20" stroke-width="0.16" text-anchor="middle" >0</text>
<text x="250.0" y="262.5" font-size="6.9" fill="#231f20" stroke="#231f20" stroke-width="0.16" text-anchor="middle" >1</text>
<text x="271.9" y="262.5" font-size="6.9" fill="#231f20" stroke="#231f20" stroke-width="0.16" text-anchor="middle" >2</text>
<text x="294.0" y="262.5" font-size="6.9" fill="#231f20" stroke="#231f20" stroke-width="0.16" text-anchor="middle" >3</text>
<text x="316.0" y="262.5" font-size="6.9" fill="#231f20" stroke="#231f20" stroke-width="0.16" text-anchor="middle" >4</text>
<text x="338.3" y="262.5" font-size="6.9" fill="#231f20" stroke="#231f20" stroke-width="0.16" text-anchor="middle" >5</text>
<text x="360.7" y="262.5" font-size="6.9" fill="#231f20" stroke="#231f20" stroke-width="0.16" text-anchor="middle" >6</text>
<text x="382.6" y="262.5" font-size="6.9" fill="#231f20" stroke="#231f20" stroke-width="0.16" text-anchor="middle" >7</text>
<text x="225.6" y="156.6" font-size="6.9" fill="#231f20" stroke="#231f20" stroke-width="0.16" text-anchor="end" >12.6</text>
<text x="225.6" y="189.5" font-size="6.9" fill="#231f20" stroke="#231f20" stroke-width="0.16" text-anchor="end" >12.4</text>
<text x="225.6" y="223.5" font-size="6.9" fill="#231f20" stroke="#231f20" stroke-width="0.16" text-anchor="end" >12.2</text>
<text x="225.6" y="258.0" font-size="6.9" fill="#231f20" stroke="#231f20" stroke-width="0.16" text-anchor="end" >12</text>
<text x="304.0" y="274.3" font-size="7.66" fill="#231f20" stroke="#231f20" stroke-width="0.16" text-anchor="middle" >Time (min)</text>
<text x="0" y="0" font-size="7.66" fill="#231f20" stroke="#231f20" stroke-width="0.16" text-anchor="middle" transform="translate(205.2,210.8) rotate(-90)">Output voltage (V)</text>
<polyline points="234.00,238.50 234.80,236.00 235.50,234.40 236.20,235.50 237.00,236.40 238.00,237.50 238.90,237.90 240.00,237.40 241.00,237.80 242.00,237.20 243.00,236.80 243.90,237.40 245.00,237.60 245.90,237.90 246.30,237.50 246.40,238.00 246.50,200.00 246.60,178.01 246.75,176.57 246.90,183.50 247.05,177.54 247.20,176.74 247.35,177.08 247.50,175.02 247.65,174.45 247.80,176.77 247.95,174.67 248.10,177.06 248.25,174.96 248.40,171.75 248.55,172.61 248.70,173.44 248.85,171.12 249.00,174.84 249.15,174.35 249.30,176.71 249.45,173.06 249.60,174.24 249.75,175.77 249.90,176.02 250.05,172.44 250.20,177.43 250.35,173.08 250.50,176.63 250.65,173.58 250.80,173.27 250.95,171.55 251.10,173.70 251.25,178.63 251.40,172.53 251.55,176.78 251.70,176.30 251.85,172.80 252.00,175.72 252.15,176.19 252.30,172.75 252.45,172.22 252.60,175.43 252.75,173.84 252.90,177.29 253.05,173.85 253.20,170.61 253.35,172.73 253.50,170.40 253.65,174.18 253.80,174.01 253.95,171.71 254.10,170.69 254.25,174.16 254.40,171.55 254.55,174.67 254.70,170.20 254.85,171.53 255.00,170.92 255.15,169.89 255.30,177.34 255.45,175.22 255.60,170.57 255.75,173.37 255.90,168.15 256.05,174.19 256.20,173.81 256.35,170.92 256.50,170.86 256.65,172.01 256.80,172.38 256.95,170.70 257.10,169.68 257.25,170.82 257.40,170.44 257.55,172.81 257.70,171.38 257.85,171.63 258.00,167.80 258.15,170.31 258.30,170.24 258.45,169.95 258.60,170.70 258.75,170.29 258.90,167.81 259.05,172.68 259.20,172.60 259.35,169.69 259.50,171.92 259.65,168.77 259.80,168.07 259.95,170.14 260.10,173.60 260.25,170.25 260.40,167.36 260.55,170.84 260.70,169.18 260.85,168.84 261.00,170.94 261.15,166.70 261.30,166.56 261.45,167.19 261.60,172.22 261.75,170.21 261.90,168.76 262.05,168.56 262.20,171.20 262.35,172.33 262.50,168.34 262.65,170.27 262.80,174.42 262.95,170.87 263.10,168.96 263.25,170.25 263.40,169.74 263.55,170.82 263.70,170.14 263.85,168.40 264.00,169.11 264.15,170.05 264.30,167.88 264.45,169.35 264.60,167.34 264.75,171.59 264.90,172.18 265.05,167.29 265.20,170.67 265.35,169.27 265.50,169.07 265.65,168.33 265.80,169.33 265.95,170.75 266.10,166.25 266.25,170.68 266.40,168.08 266.55,166.37 266.70,168.41 266.85,169.74 267.00,168.24 267.15,168.96 267.30,167.66 267.45,167.21 267.60,170.23 267.75,166.33 267.90,170.12 268.05,168.77 268.20,167.51 268.35,167.59 268.50,167.43 268.65,167.90 268.80,167.85 268.95,167.63 269.10,164.03 269.25,163.65 269.40,168.49 269.55,166.53 269.70,166.62 269.85,167.38 270.00,165.49 270.15,170.71 270.30,167.61 270.45,167.24 270.60,165.46 270.75,169.27 270.90,168.92 271.05,170.40 271.20,169.20 271.35,165.78 271.50,164.86 271.65,170.03 271.80,165.96 271.95,167.05 272.10,166.93 272.25,168.19 272.40,168.26 272.55,165.10 272.70,165.84 272.85,163.65 273.00,168.15 273.15,166.69 273.30,163.65 273.45,168.99 273.60,166.94 273.75,164.89 273.90,166.04 274.05,165.67 274.20,166.99 274.35,167.16 274.50,165.59 274.65,167.53 274.80,161.55 274.95,165.95 275.10,167.89 275.25,168.48 275.40,168.18 275.55,164.55 275.70,163.28 275.85,165.92 276.00,171.05 276.15,167.09 276.30,165.12 276.45,163.28 276.60,166.84 276.75,165.67 276.90,167.52 277.05,166.92 277.20,161.94 277.35,166.29 277.50,168.07 277.65,165.36 277.80,164.17 277.95,164.23 278.10,163.90 278.25,170.77 278.40,169.25 278.55,165.29 278.70,169.16 278.85,164.39 279.00,165.40 279.15,164.99 279.30,166.08 279.45,167.73 279.60,170.40 279.75,167.87 279.90,166.21 280.05,166.73 280.20,165.97 280.35,167.13 280.50,164.71 280.65,166.89 280.80,167.28 280.95,168.23 281.10,164.77 281.25,167.20 281.40,166.92 281.55,164.78 281.70,162.51 281.85,165.27 282.00,168.05 282.15,165.79 282.30,170.76 282.45,167.42 282.60,164.92 282.75,166.12 282.90,167.21 283.05,167.24 283.20,165.84 283.35,167.19 283.50,172.05 283.65,168.07 283.80,166.60 283.95,165.36 284.10,162.81 284.25,166.60 284.40,165.47 284.55,166.16 284.70,165.18 284.85,167.74 285.00,168.33 285.15,164.88 285.30,163.56 285.45,166.84 285.60,168.91 285.75,167.01 285.90,167.15 286.05,163.49 286.20,165.13 286.35,167.32 286.50,166.90 286.65,166.16 286.80,167.28 286.95,167.83 287.10,166.33 287.25,164.78 287.40,163.43 287.55,166.55 287.70,165.81 287.85,165.79 288.00,168.28 288.15,164.85 288.30,165.60 288.45,167.38 288.60,164.39 288.75,161.95 288.90,165.04 289.05,167.67 289.20,164.92 289.35,165.61 289.50,162.49 289.65,168.38 289.80,162.69 289.95,164.78 290.10,165.71 290.25,169.81 290.40,166.27 290.55,164.66 290.70,163.16 290.85,165.45 291.00,163.67 291.15,164.84 291.30,166.13 291.45,168.39 291.60,163.90 291.75,168.66 291.90,162.28 292.05,169.76 292.20,164.77 292.35,165.30 292.50,165.10 292.65,166.46 292.80,165.90 292.95,165.37 293.10,164.66 293.25,164.95 293.40,166.11 293.55,164.97 293.70,164.67 293.85,163.21 294.00,166.04 294.15,166.93 294.30,164.01 294.45,167.90 294.60,165.91 294.75,166.17 294.90,162.69 295.05,167.16 295.20,168.39 295.35,169.69 295.50,164.79 295.65,165.85 295.80,167.38 295.95,166.98 296.10,164.73 296.25,166.07 296.40,167.83 296.55,167.02 296.70,165.84 296.85,167.94 297.00,163.09 297.15,166.78 297.30,164.67 297.45,165.24 297.60,167.48 297.75,169.27 297.90,166.79 298.05,166.17 298.20,169.08 298.35,167.37 298.50,161.69 298.65,164.76 298.80,164.65 298.95,164.63 299.10,163.05 299.25,167.15 299.40,166.25 299.55,169.24 299.70,165.37 299.85,166.14 300.00,164.48 300.15,167.86 300.30,168.32 300.45,169.11 300.60,167.86 300.75,164.80 300.90,168.22 301.05,164.18 301.20,164.73 301.35,165.55 301.50,169.89 301.65,164.56 301.80,164.01 301.95,166.36 302.10,168.16 302.25,166.97 302.40,166.95 302.55,164.30 302.70,165.16 302.85,168.33 303.00,166.10 303.15,164.66 303.30,165.23 303.45,168.44 303.60,169.16 303.75,166.67 303.90,164.33 304.05,169.06 304.20,164.67 304.35,166.08 304.50,166.68 304.65,165.87 304.80,165.55 304.95,168.94 305.10,166.48 305.25,163.16 305.40,164.76 305.55,168.37 305.70,165.54 305.85,163.93 306.00,167.60 306.15,166.78 306.30,165.94 306.45,166.94 306.60,165.14 306.75,166.20 306.90,166.95 307.05,164.79 307.20,168.21 307.35,163.86 307.50,169.77 307.65,165.98 307.80,166.55 307.95,163.54 308.10,167.32 308.25,164.26 308.40,166.76 308.55,165.86 308.70,164.29 308.85,169.17 309.00,166.14 309.15,164.85 309.30,165.14 309.45,166.42 309.60,165.91 309.75,167.42 309.90,164.74 310.05,166.22 310.20,164.89 310.35,164.48 310.50,167.34 310.65,164.27 310.80,162.73 310.95,167.04 311.10,164.83 311.25,166.86 311.40,166.78 311.55,166.75 311.70,165.94 311.85,168.72 312.00,163.81 312.15,167.98 312.30,165.51 312.45,166.34 312.60,164.98 312.75,167.41 312.90,166.69 313.05,164.94 313.20,165.88 313.35,166.69 313.50,165.51 313.65,170.43 313.80,166.85 313.95,165.03 314.10,167.69 314.25,166.27 314.40,164.80 314.55,165.12 314.70,162.76 314.85,167.19 315.00,168.61 315.15,165.61 315.30,164.25 315.45,162.51 315.60,163.46 315.75,165.75 315.90,164.55 316.05,165.45 316.20,164.16 316.35,165.44 316.50,165.31 316.65,166.07 316.80,165.90 316.95,166.09 317.10,164.20 317.25,165.19 317.40,163.43 317.55,164.77 317.70,165.64 317.85,166.52 318.00,163.18 318.15,163.91 318.30,164.70 318.45,163.42 318.60,165.15 318.75,165.32 318.90,164.34 319.05,168.72 319.20,164.87 319.35,166.13 319.50,162.34 319.65,167.22 319.80,166.26 319.95,166.04 320.10,161.63 320.25,165.51 320.40,164.34 320.55,166.34 320.70,165.50 320.85,164.55 321.00,164.64 321.15,167.81 321.30,167.53 321.45,162.24 321.60,164.60 321.75,166.60 321.90,164.61 322.05,165.96 322.20,164.75 322.35,168.39 322.50,166.66 322.65,164.95 322.80,167.93 322.95,166.48 323.10,168.39 323.25,164.35 323.40,162.37 323.55,166.66 323.70,165.21 323.85,161.86 324.00,157.93 324.15,165.26 324.30,165.19 324.45,163.54 324.60,164.14 324.75,165.21 324.90,162.37 325.05,167.31 325.20,162.50 325.35,164.99 325.50,164.91 325.65,163.95 325.80,163.40 325.95,166.44 326.10,161.80 326.25,164.78 326.40,167.80 326.55,163.31 326.70,161.84 326.85,163.77 327.00,159.17 327.15,163.21 327.30,162.43 327.45,163.05 327.60,162.91 327.75,165.67 327.90,164.61 328.05,162.60 328.20,166.93 328.35,162.64 328.50,167.22 328.65,163.52 328.80,162.68 328.95,163.53 329.10,167.07 329.25,164.58 329.40,164.27 329.55,161.18 329.70,164.24 329.85,163.67 330.00,163.55 330.15,162.74 330.30,161.20 330.45,166.57 330.60,162.32 330.75,165.27 330.90,165.19 331.05,164.40 331.20,164.33 331.35,165.27 331.50,163.38 331.65,163.86 331.80,164.61 331.95,164.33 332.10,163.37 332.25,158.85 332.40,163.85 332.55,161.54 332.70,166.08 332.85,166.22 333.00,164.29 333.15,164.30 333.30,159.95 333.45,163.43 333.60,162.28 333.75,167.19 333.90,161.20 334.05,167.93 334.20,163.34 334.35,159.79 334.50,167.05 334.65,163.21 334.80,164.29 334.95,165.67 335.10,160.57 335.25,162.64 335.40,163.79 335.55,165.94 335.70,163.20 335.85,164.63 336.00,160.18 336.15,164.49 336.30,161.74 336.45,162.81 336.60,163.66 336.75,165.15 336.90,162.15 337.05,164.26 337.20,162.84 337.35,164.61 337.50,162.56 337.65,166.06 337.80,161.43 337.95,161.42 338.10,165.79 338.25,161.99 338.40,164.60 338.55,164.67 338.70,160.14 338.85,162.77 339.00,162.41 339.15,163.06 339.30,160.47 339.45,163.62 339.60,163.65 339.75,161.17 339.90,163.29 340.05,163.65 340.20,159.99 340.35,163.08 340.50,164.91 340.65,164.60 340.80,161.12 340.95,161.71 341.10,163.19 341.25,163.91 341.40,164.68 341.55,163.28 341.70,164.63 341.85,161.85 342.00,166.57 342.15,162.73 342.30,161.25 342.45,161.97 342.60,159.63 342.75,161.60 342.90,162.41 343.05,163.92 343.20,165.11 343.35,161.35 343.50,161.55 343.65,164.26 343.80,164.89 343.95,164.36 344.10,163.40 344.25,160.71 344.40,161.86 344.55,159.92 344.70,161.53 344.85,165.21 345.00,165.80 345.15,162.30 345.30,163.96 345.45,165.36 345.60,160.77 345.75,160.19 345.90,161.53 346.05,158.76 346.20,164.04 346.35,162.55 346.50,162.16 346.65,162.80 346.80,163.61 346.95,162.63 347.10,160.34 347.25,163.86 347.40,161.62 347.55,163.17 347.70,161.30 347.85,162.62 348.00,159.63 348.15,162.81 348.30,161.99 348.45,164.57 348.60,161.01 348.75,160.86 348.90,163.83 349.05,158.76 349.20,163.67 349.35,162.31 349.50,161.59 349.65,162.63 349.80,161.91 349.95,160.69 350.10,163.78 350.25,160.73 350.40,162.64 350.55,162.05 350.70,161.01 350.85,161.22 351.00,162.94 351.15,161.73 351.30,164.96 351.45,164.04 351.60,161.56 351.75,164.30 351.90,157.95 352.05,165.63 352.20,159.94 352.35,159.98 352.50,164.49 352.65,159.32 352.80,161.01 352.95,163.01 353.10,158.49 353.25,162.12 353.40,164.11 353.55,161.05 353.70,165.18 353.85,160.72 354.00,165.11 354.15,163.18 354.30,162.65 354.45,161.95 354.60,160.54 354.75,164.40 354.90,160.17 355.05,162.40 355.20,163.75 355.35,163.29 355.50,163.70 355.65,161.21 355.80,159.98 355.95,162.83 356.10,162.10 356.25,164.42 356.40,158.67 356.55,162.37 356.70,163.15 356.85,161.51 357.00,159.33 357.15,162.44 357.30,164.36 357.45,161.09 357.60,160.65 357.75,160.49 357.90,160.51 358.05,159.01 358.20,168.33 358.35,161.97 358.50,164.64 358.65,164.63 358.80,161.33 358.95,163.50 359.10,165.88 359.25,164.95 359.40,164.33 359.55,161.06 359.70,161.21 359.85,162.52 360.00,165.37 360.15,161.09 360.30,163.73 360.45,164.65 360.60,163.98 360.75,162.46 360.90,161.24 361.05,163.79 361.20,161.84 361.35,163.19 361.50,161.51 361.65,161.47 361.80,161.60 361.95,160.57 362.10,164.23 362.25,159.87 362.40,163.19 362.55,161.64 362.70,163.41 362.85,159.35 363.00,162.48 363.15,162.58 363.30,165.15 363.45,164.41 363.60,163.20 363.75,162.36 363.90,162.58 364.05,164.43 364.20,164.97 364.35,163.63 364.50,164.79 364.65,159.66 364.80,164.31 364.95,166.26 365.10,162.75 365.25,161.42 365.40,165.15 365.55,159.00 365.70,164.80 365.85,160.32 366.00,163.46 366.30,170.00 366.40,200.00 366.50,226.60 367.20,231.90 368.10,235.50 369.80,238.10 372.50,239.40 375.20,240.40" fill="none" stroke="#00a651" stroke-width="0.7" stroke-linejoin="round" />
<polyline points="234.00,241.00 235.00,240.50 236.00,239.90 237.00,239.60 237.90,239.40 238.60,238.60 239.40,238.40 240.20,239.50 240.90,240.40 241.60,239.00 242.40,237.40 242.90,232.40 243.40,234.00 243.90,235.90 244.40,238.50 244.90,240.40 245.40,239.50 245.90,238.40 246.30,237.80 246.60,238.00 246.70,200.00 246.80,173.10 246.95,170.03 247.10,176.43 247.25,179.76 247.40,174.03 247.55,175.55 247.70,175.32 247.85,174.09 248.00,173.82 248.15,174.45 248.30,171.26 248.45,168.35 248.60,167.87 248.75,172.96 248.90,172.41 249.05,171.25 249.20,166.22 249.35,170.60 249.50,170.89 249.65,168.78 249.80,169.18 249.95,175.40 250.10,173.56 250.25,172.28 250.40,171.11 250.55,169.38 250.70,169.47 250.85,171.68 251.00,168.23 251.15,169.48 251.30,173.45 251.45,166.97 251.60,167.97 251.75,173.47 251.90,170.31 252.05,169.78 252.20,167.48 252.35,166.12 252.50,171.72 252.65,163.37 252.80,169.92 252.95,167.60 253.10,168.52 253.25,164.08 253.40,170.47 253.55,169.73 253.70,168.96 253.85,169.16 254.00,165.19 254.15,168.43 254.30,169.00 254.45,167.68 254.60,160.87 254.75,167.42 254.90,167.80 255.05,165.03 255.20,167.55 255.35,170.18 255.50,167.10 255.65,170.11 255.80,166.00 255.95,165.52 256.10,167.62 256.25,165.05 256.40,163.24 256.55,167.61 256.70,166.82 256.85,168.04 257.00,164.79 257.15,165.68 257.30,167.64 257.45,165.44 257.60,165.98 257.75,166.90 257.90,164.69 258.05,166.81 258.20,163.00 258.35,167.24 258.50,171.96 258.65,167.44 258.80,165.10 258.95,162.37 259.10,163.32 259.25,165.17 259.40,164.05 259.55,166.76 259.70,165.93 259.85,167.23 260.00,165.01 260.15,167.20 260.30,168.39 260.45,163.39 260.60,165.08 260.75,164.98 260.90,165.02 261.05,167.67 261.20,164.38 261.35,163.13 261.50,162.11 261.65,161.77 261.80,164.72 261.95,166.84 262.10,164.96 262.25,163.05 262.40,164.39 262.55,162.72 262.70,166.87 262.85,164.88 263.00,167.75 263.15,165.97 263.30,165.85 263.45,162.39 263.60,165.49 263.75,163.51 263.90,163.11 264.05,164.65 264.20,167.75 264.35,165.26 264.50,168.51 264.65,165.55 264.80,161.09 264.95,162.87 265.10,168.06 265.25,165.20 265.40,164.07 265.55,162.86 265.70,164.17 265.85,164.68 266.00,162.82 266.15,163.56 266.30,164.23 266.45,161.25 266.60,163.00 266.75,161.92 266.90,162.10 267.05,161.49 267.20,162.02 267.35,161.55 267.50,167.02 267.65,162.86 267.80,163.97 267.95,161.43 268.10,163.40 268.25,164.04 268.40,166.49 268.55,166.77 268.70,162.09 268.85,166.84 269.00,163.17 269.15,165.60 269.30,162.82 269.45,164.51 269.60,162.73 269.75,160.01 269.90,164.12 270.05,162.22 270.20,162.59 270.35,163.38 270.50,163.90 270.65,168.10 270.80,160.51 270.95,161.69 271.10,160.73 271.25,165.38 271.40,162.08 271.55,161.41 271.70,163.65 271.85,162.80 272.00,163.76 272.15,159.44 272.30,162.60 272.45,163.81 272.60,161.28 272.75,165.14 272.90,162.28 273.05,160.80 273.20,161.56 273.35,163.53 273.50,164.60 273.65,161.34 273.80,163.56 273.95,161.60 274.10,160.38 274.25,160.19 274.40,163.82 274.55,161.28 274.70,162.54 274.85,165.68 275.00,164.28 275.15,161.31 275.30,161.60 275.45,162.76 275.60,157.75 275.75,163.60 275.90,160.69 276.05,163.76 276.20,160.71 276.35,161.49 276.50,163.96 276.65,163.61 276.80,166.07 276.95,161.28 277.10,160.99 277.25,165.44 277.40,163.43 277.55,159.83 277.70,161.31 277.85,163.17 278.00,161.28 278.15,159.25 278.30,162.43 278.45,163.26 278.60,165.02 278.75,164.67 278.90,164.02 279.05,160.63 279.20,159.82 279.35,160.22 279.50,163.58 279.65,164.27 279.80,158.43 279.95,163.56 280.10,164.27 280.25,165.60 280.40,164.01 280.55,164.44 280.70,162.92 280.85,161.81 281.00,162.13 281.15,162.35 281.30,160.03 281.45,162.21 281.60,164.59 281.75,161.78 281.90,165.09 282.05,160.64 282.20,163.40 282.35,160.84 282.50,164.75 282.65,164.02 282.80,164.55 282.95,164.24 283.10,163.60 283.25,164.90 283.40,162.97 283.55,157.38 283.70,162.84 283.85,163.65 284.00,157.73 284.15,165.06 284.30,162.43 284.45,164.77 284.60,161.99 284.75,163.01 284.90,160.87 285.05,162.12 285.20,159.32 285.35,163.16 285.50,161.82 285.65,161.27 285.80,161.09 285.95,160.60 286.10,162.61 286.25,162.44 286.40,162.03 286.55,165.55 286.70,160.41 286.85,161.80 287.00,159.91 287.15,162.14 287.30,162.32 287.45,158.88 287.60,163.44 287.75,158.39 287.90,161.60 288.05,162.13 288.20,159.99 288.35,165.62 288.50,163.11 288.65,159.97 288.80,163.56 288.95,163.59 289.10,161.59 289.25,161.02 289.40,164.79 289.55,167.68 289.70,163.32 289.85,167.33 290.00,159.20 290.15,159.36 290.30,163.02 290.45,161.49 290.60,163.37 290.75,166.77 290.90,160.65 291.05,163.78 291.20,162.78 291.35,160.11 291.50,162.37 291.65,160.46 291.80,162.33 291.95,166.00 292.10,165.10 292.25,165.14 292.40,163.17 292.55,161.80 292.70,167.29 292.85,162.93 293.00,163.83 293.15,165.15 293.30,162.61 293.45,163.93 293.60,162.84 293.75,163.67 293.90,164.84 294.05,160.08 294.20,163.13 294.35,161.80 294.50,162.50 294.65,163.72 294.80,166.08 294.95,158.49 295.10,166.57 295.25,161.70 295.40,161.15 295.55,161.40 295.70,163.32 295.85,163.28 296.00,159.19 296.15,159.47 296.30,165.01 296.45,162.70 296.60,158.86 296.75,162.40 296.90,162.30 297.05,166.15 297.20,161.24 297.35,161.72 297.50,162.07 297.65,163.73 297.80,164.00 297.95,164.32 298.10,166.68 298.25,162.73 298.40,166.35 298.55,163.18 298.70,164.66 298.85,165.04 299.00,166.82 299.15,160.93 299.30,167.77 299.45,158.92 299.60,162.68 299.75,162.66 299.90,162.96 300.05,166.01 300.20,159.40 300.35,160.55 300.50,165.04 300.65,166.71 300.80,160.68 300.95,161.80 301.10,164.42 301.25,164.35 301.40,159.73 301.55,162.77 301.70,161.85 301.85,160.48 302.00,162.62 302.15,161.27 302.30,160.26 302.45,167.84 302.60,161.87 302.75,160.85 302.90,167.01 303.05,162.25 303.20,162.11 303.35,157.66 303.50,159.71 303.65,166.15 303.80,161.26 303.95,162.15 304.10,162.61 304.25,163.50 304.40,167.22 304.55,159.62 304.70,159.65 304.85,166.51 305.00,164.67 305.15,164.78 305.30,165.98 305.45,163.03 305.60,164.73 305.75,165.53 305.90,166.33 306.05,163.69 306.20,160.73 306.35,161.68 306.50,162.78 306.65,162.38 306.80,165.70 306.95,160.90 307.10,164.33 307.25,162.30 307.40,163.65 307.55,166.38 307.70,165.50 307.85,162.00 308.00,163.31 308.15,165.38 308.30,163.36 308.45,165.52 308.60,166.15 308.75,162.47 308.90,164.54 309.05,167.50 309.20,164.70 309.35,161.83 309.50,166.22 309.65,163.28 309.80,162.79 309.95,164.20 310.10,164.97 310.25,162.18 310.40,164.11 310.55,164.68 310.70,165.14 310.85,163.23 311.00,161.79 311.15,163.56 311.30,164.22 311.45,163.82 311.60,165.36 311.75,164.11 311.90,160.48 312.05,164.62 312.20,165.35 312.35,159.79 312.50,164.95 312.65,165.30 312.80,164.38 312.95,164.65 313.10,161.83 313.25,164.65 313.40,164.51 313.55,161.60 313.70,164.80 313.85,165.64 314.00,163.09 314.15,167.70 314.30,164.27 314.45,164.10 314.60,164.91 314.75,164.05 314.90,163.55 315.05,162.58 315.20,160.08 315.35,160.70 315.50,163.78 315.65,166.68 315.80,162.55 315.95,158.34 316.10,165.09 316.25,161.16 316.40,161.71 316.55,164.29 316.70,163.90 316.85,163.89 317.00,162.42 317.15,162.15 317.30,164.70 317.45,165.34 317.60,165.18 317.75,165.70 317.90,165.29 318.05,162.88 318.20,164.64 318.35,163.71 318.50,161.86 318.65,167.33 318.80,166.04 318.95,162.56 319.10,162.77 319.25,164.02 319.40,163.72 319.55,163.11 319.70,163.28 319.85,166.74 320.00,163.05 320.15,162.31 320.30,166.42 320.45,163.33 320.60,162.98 320.75,162.19 320.90,163.68 321.05,163.11 321.20,163.23 321.35,163.32 321.50,164.19 321.65,160.98 321.80,161.84 321.95,162.79 322.10,163.71 322.25,163.09 322.40,163.80 322.55,163.88 322.70,163.12 322.85,163.12 323.00,167.57 323.15,163.83 323.30,162.91 323.45,165.42 323.60,164.61 323.75,162.01 323.90,166.97 324.05,158.62 324.20,164.86 324.35,164.63 324.50,165.29 324.65,163.84 324.80,159.04 324.95,160.64 325.10,164.65 325.25,160.70 325.40,166.55 325.55,167.42 325.70,160.62 325.85,165.20 326.00,165.65 326.15,168.91 326.30,162.56 326.45,164.91 326.60,165.76 326.75,161.59 326.90,162.07 327.05,165.13 327.20,163.72 327.35,161.92 327.50,161.57 327.65,163.47 327.80,162.40 327.95,165.00 328.10,163.73 328.25,167.46 328.40,163.25 328.55,162.89 328.70,164.94 328.85,165.67 329.00,161.98 329.15,162.63 329.30,162.09 329.45,161.50 329.60,163.77 329.75,164.70 329.90,162.64 330.05,161.91 330.20,161.87 330.35,167.60 330.50,164.63 330.65,164.82 330.80,162.68 330.95,162.62 331.10,163.55 331.25,163.35 331.40,161.32 331.55,164.34 331.70,163.06 331.85,164.54 332.00,165.62 332.15,164.93 332.30,163.05 332.45,168.12 332.60,167.16 332.75,165.50 332.90,166.47 333.05,163.47 333.20,165.53 333.35,166.56 333.50,166.02 333.65,163.27 333.80,163.99 333.95,162.84 334.10,164.09 334.25,166.07 334.40,160.55 334.55,161.23 334.70,164.55 334.85,164.74 335.00,164.17 335.15,167.14 335.30,163.25 335.45,162.01 335.60,163.87 335.75,162.03 335.90,167.09 336.05,168.50 336.20,164.18 336.35,164.53 336.50,165.07 336.65,165.69 336.80,163.99 336.95,162.69 337.10,165.76 337.25,167.07 337.40,162.77 337.55,161.92 337.70,163.90 337.85,168.72 338.00,163.00 338.15,162.65 338.30,165.69 338.45,163.68 338.60,163.63 338.75,166.94 338.90,162.20 339.05,163.24 339.20,167.24 339.35,166.35 339.50,166.35 339.65,164.21 339.80,164.99 339.95,163.58 340.10,166.56 340.25,166.21 340.40,166.87 340.55,163.47 340.70,164.64 340.85,165.65 341.00,167.21 341.15,162.94 341.30,166.09 341.45,164.43 341.60,164.60 341.75,163.32 341.90,165.95 342.05,165.97 342.20,162.56 342.35,167.31 342.50,162.98 342.65,165.33 342.80,167.54 342.95,161.91 343.10,161.28 343.25,165.67 343.40,166.08 343.55,165.40 343.70,166.26 343.85,162.93 344.00,165.65 344.15,165.49 344.30,166.11 344.45,163.33 344.60,170.09 344.75,164.37 344.90,161.18 345.05,162.62 345.20,162.43 345.35,167.40 345.50,166.77 345.65,165.42 345.80,166.18 345.95,164.79 346.10,167.21 346.25,163.52 346.40,168.27 346.55,165.73 346.70,168.14 346.85,161.11 347.00,163.59 347.15,165.04 347.30,164.99 347.45,162.00 347.60,166.87 347.75,165.35 347.90,162.08 348.05,162.37 348.20,163.41 348.35,163.45 348.50,165.20 348.65,164.99 348.80,166.19 348.95,166.04 349.10,161.26 349.25,167.54 349.40,160.94 349.55,164.63 349.70,163.34 349.85,161.88 350.00,166.88 350.15,161.39 350.30,163.89 350.45,162.51 350.60,165.60 350.75,163.48 350.90,164.65 351.05,165.74 351.20,165.07 351.35,165.64 351.50,165.41 351.65,166.33 351.80,163.04 351.95,159.12 352.10,162.74 352.25,162.30 352.40,163.64 352.55,164.48 352.70,164.36 352.85,162.12 353.00,161.03 353.15,165.76 353.30,165.91 353.45,164.38 353.60,166.69 353.75,164.98 353.90,162.67 354.05,163.69 354.20,164.34 354.35,166.26 354.50,163.97 354.65,165.08 354.80,160.54 354.95,165.03 355.10,167.31 355.25,162.41 355.40,165.63 355.55,166.62 355.70,165.78 355.85,165.71 356.00,165.52 356.15,164.98 356.30,164.55 356.45,163.26 356.60,163.75 356.75,162.76 356.90,164.69 357.05,167.77 357.20,163.52 357.35,164.91 357.50,164.52 357.65,167.18 357.80,165.01 357.95,167.14 358.10,161.63 358.25,168.38 358.40,166.88 358.55,167.74 358.70,165.16 358.85,165.37 359.00,166.58 359.15,161.95 359.30,161.40 359.45,167.36 359.60,164.36 359.75,166.76 359.90,167.05 360.05,162.00 360.20,166.61 360.35,164.32 360.50,164.44 360.65,160.44 360.80,164.46 360.95,163.12 361.10,168.20 361.25,163.36 361.40,167.12 361.55,165.56 361.70,168.45 361.85,164.23 362.00,164.67 362.15,164.18 362.30,165.82 362.45,163.65 362.60,165.61 362.75,168.14 362.90,158.21 363.05,165.96 363.20,165.38 363.35,164.24 363.50,166.16 363.65,165.30 363.80,166.40 363.95,165.66 364.10,164.70 364.25,165.25 364.40,164.37 364.55,161.38 364.70,163.29 364.85,166.60 365.00,159.94 365.15,161.87 365.30,165.08 365.45,163.68 365.60,163.39 365.75,164.42 365.90,168.33 366.05,162.70 366.20,160.24 366.60,170.00 366.80,200.00 366.80,226.60 367.50,231.90 368.40,235.50 369.50,237.20 370.30,238.60 371.00,237.40 371.80,239.60 372.60,238.20 373.30,240.20 374.00,238.80 374.80,240.60 375.50,239.60 376.00,240.80" fill="none" stroke="#ed1c24" stroke-width="0.7" stroke-linejoin="round" />
<polyline points="234.00,238.79 234.20,237.90 234.40,236.54 234.60,237.19 234.80,236.19 235.00,235.77 235.20,235.20 235.40,235.63 235.60,235.15 235.80,235.66 236.00,235.02 236.20,235.22 236.40,235.09 236.60,235.80 236.80,234.46 237.00,237.45 237.20,236.72 237.40,236.91 237.60,237.63 237.80,237.05 238.00,237.67 238.20,238.10 238.40,236.69 238.60,238.89 238.80,237.96 239.00,238.26 239.20,237.11 239.40,237.29 239.60,238.68 239.80,237.16 240.00,237.15 240.20,237.80 240.40,238.49 240.60,236.10 240.80,238.68 241.00,237.99 241.20,238.27 241.40,236.92 241.60,237.65 241.80,238.37 242.00,237.15 242.20,236.73 242.40,236.77 242.60,236.63 242.80,237.40 243.00,236.94 243.20,236.63 243.40,237.59 243.60,236.51 243.80,236.42 244.00,239.01 244.20,237.06 244.40,238.55 244.60,237.48 244.80,237.43 245.00,237.95 245.20,237.13 245.40,237.20 245.60,237.68 245.80,237.63 246.00,238.28 246.20,238.87" fill="none" stroke="#00a651" stroke-width="1.0" stroke-linejoin="round" />
<polyline points="234.00,241.37 234.20,241.09 234.40,240.38 234.60,241.92 234.80,239.64 235.00,240.52 235.20,240.96 235.40,240.68 235.60,240.54 235.80,239.41 236.00,241.07 236.20,239.42 236.40,239.76 236.60,239.74 236.80,239.67 237.00,239.29 237.20,240.53 237.40,239.57 237.60,240.10 237.80,238.47 238.00,239.67 238.20,238.94 238.40,239.09 238.60,238.75 238.80,238.84 239.00,238.46 239.20,238.52 239.40,238.50 239.60,238.83 239.80,239.00 240.00,239.01 240.20,239.79 240.40,239.25 240.60,241.30 240.80,240.82 241.00,241.16 241.20,239.74 241.40,238.62 241.60,238.09 241.80,238.13 242.00,237.83 242.20,237.57 242.40,237.19 242.60,235.79 242.80,231.96 243.00,233.76 243.20,233.16 243.40,234.10 243.60,233.67 243.80,235.68 244.00,235.54 244.20,237.77 244.40,238.68 244.60,239.38 244.80,239.92 245.00,240.06 245.20,239.67 245.40,240.06 245.60,239.12 245.80,238.77 246.00,239.73 246.20,238.01" fill="none" stroke="#ed1c24" stroke-width="1.0" stroke-linejoin="round" />
<polyline points="367.50,231.90 368.40,235.50 369.50,237.20 370.30,238.60 371.00,237.40 371.80,239.60 372.60,238.20 373.30,240.20 374.00,238.80 374.80,240.60 375.50,239.60 376.00,240.80" fill="none" stroke="#ed1c24" stroke-width="1.0" stroke-linejoin="round" />
<line x1="263.2" y1="208.5" x2="273.3" y2="208.5" stroke="#7cc68f" stroke-width="0.8"/>
<line x1="263.2" y1="219.4" x2="273.3" y2="219.4" stroke="#e0707a" stroke-width="0.8"/>
<text x="276.4" y="211.2" font-size="6.87" fill="#231f20" stroke="#231f20" stroke-width="0.16" text-anchor="start" >Response (first day test)</text>
<text x="276.2" y="222.1" font-size="6.87" fill="#231f20" stroke="#231f20" stroke-width="0.16" text-anchor="start" >Response (after 24 hours)</text>
<path d="M229.5,151.7 L384.1,151.7 M229.5,151.7 L229.5,254.4 L384.1,254.4" fill="none" stroke="#1a1a1a" stroke-width="1.0"/>
<line x1="384.1" y1="151.7" x2="384.1" y2="254.4" stroke="#777" stroke-width="1.4"/>
<circle cx="229.5" cy="151.7" r="0.6" fill="#00a651"/>
<circle cx="229.5" cy="254.4" r="0.6" fill="#00a651"/>
<circle cx="384.1" cy="151.7" r="0.6" fill="#00a651"/>
<circle cx="384.1" cy="254.4" r="0.6" fill="#00a651"/>
</svg>
</body></html>
